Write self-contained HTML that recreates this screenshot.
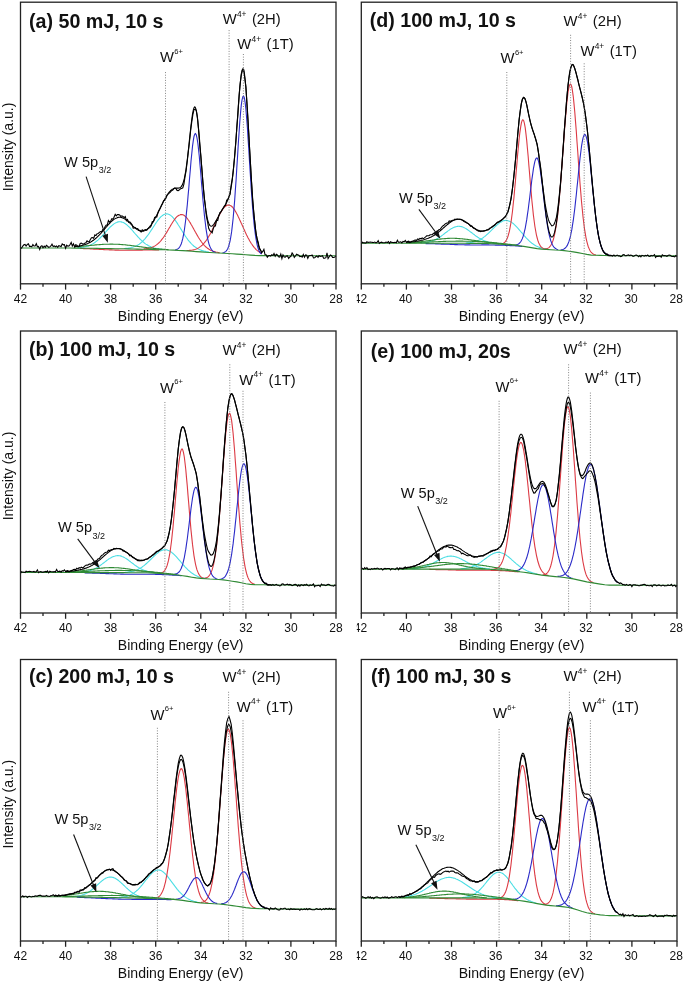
<!DOCTYPE html>
<html><head><meta charset="utf-8"><style>
html,body{margin:0;padding:0;background:#fff;}
svg{display:block;filter:blur(0.3px);}
text{font-family:"Liberation Sans", sans-serif;fill:#111;}
</style></head><body>
<svg width="685" height="982" viewBox="0 0 685 982">
<rect width="685" height="982" fill="#fff"/>
<path d="M77.6 247.8 78.3 247.7 79.1 247.7 79.8 247.6 80.6 247.5 81.3 247.4 82.1 247.3 82.8 247.2 83.6 247.1 84.4 246.9 85.1 246.8 85.9 246.6 86.6 246.4 87.4 246.2 88.1 245.9 88.9 245.7 89.6 245.4 90.4 245 91.1 244.7 91.9 244.3 92.6 243.9 93.4 243.4 94.1 243 94.9 242.5 95.6 241.9 96.4 241.3 97.1 240.7 97.9 240.1 98.6 239.4 99.4 238.7 100.1 238 100.9 237.2 101.6 236.5 102.4 235.7 103.1 234.8 103.9 234 104.6 233.2 105.4 232.3 106.1 231.5 106.9 230.7 107.6 229.8 108.4 229 109.1 228.2 109.9 227.4 110.6 226.7 111.4 226 112.1 225.3 112.9 224.7 113.6 224.1 114.4 223.6 115.2 223.1 115.9 222.7 116.7 222.4 117.4 222.1 118.2 221.9 118.9 221.8 119.7 221.8 120.4 221.8 121.2 221.9 121.9 222.1 122.7 222.3 123.4 222.6 124.2 223 124.9 223.4 125.7 224 126.4 224.5 127.2 225.1 127.9 225.8 128.7 226.5 129.4 227.3 130.2 228 130.9 228.9 131.7 229.7 132.4 230.5 133.2 231.4 133.9 232.3 134.7 233.1 135.4 234 136.2 234.9 136.9 235.7 137.7 236.6 138.4 237.4 139.2 238.2 139.9 239 140.7 239.7 141.4 240.4 142.2 241.1 142.9 241.8 143.7 242.4 144.4 243 145.2 243.6 145.9 244.1 146.7 244.6 147.5 245 148.2 245.5 149 245.9 149.7 246.3 150.5 246.6 151.2 246.9 152 247.2 152.7 247.5 153.5 247.7 154.2 248 155 248.2 155.7 248.3 156.5 248.5 157.2 248.7 158 248.8 158.7 248.9 159.5 249.1 160.2 249.2 161 249.3 161.7 249.3 162.5 249.4" stroke="#4adee4" stroke-width="1.1" fill="none"/>
<path d="M124.2 248.5 124.9 248.5 125.7 248.4 126.4 248.4 127.2 248.3 127.9 248.2 128.7 248.1 129.4 248 130.2 247.8 130.9 247.7 131.7 247.5 132.4 247.3 133.2 247.1 133.9 246.8 134.7 246.6 135.4 246.3 136.2 245.9 136.9 245.5 137.7 245.1 138.4 244.7 139.2 244.2 139.9 243.6 140.7 243 141.4 242.4 142.2 241.7 142.9 241 143.7 240.2 144.4 239.4 145.2 238.6 145.9 237.7 146.7 236.7 147.5 235.7 148.2 234.7 149 233.6 149.7 232.5 150.5 231.4 151.2 230.3 152 229.1 152.7 228 153.5 226.8 154.2 225.7 155 224.5 155.7 223.4 156.5 222.3 157.2 221.2 158 220.2 158.7 219.3 159.5 218.3 160.2 217.5 161 216.7 161.7 216.1 162.5 215.5 163.2 215 164 214.5 164.7 214.2 165.5 214 166.2 213.9 167 213.9 167.7 214 168.5 214.2 169.2 214.5 170 214.9 170.7 215.4 171.5 216.1 172.2 216.7 173 217.5 173.7 218.4 174.5 219.3 175.2 220.3 176 221.4 176.7 222.4 177.5 223.6 178.2 224.8 179 226 179.8 227.2 180.5 228.4 181.3 229.6 182 230.8 182.8 232.1 183.5 233.2 184.3 234.4 185 235.6 185.8 236.7 186.5 237.8 187.3 238.8 188 239.8 188.8 240.8 189.5 241.7 190.3 242.5 191 243.3 191.8 244.1 192.5 244.8 193.3 245.5 194 246.2 194.8 246.7 195.5 247.3 196.3 247.8 197 248.3 197.8 248.7 198.5 249.1 199.3 249.5 200 249.8 200.8 250.1 201.5 250.4 202.3 250.6 203 250.9 203.8 251.1 204.5 251.3 205.3 251.4 206 251.6 206.8 251.7 207.5 251.9 208.3 252 209 252.1" stroke="#4adee4" stroke-width="1.1" fill="none"/>
<path d="M143.7 248.9 144.4 248.8 145.2 248.8 145.9 248.7 146.7 248.6 147.5 248.5 148.2 248.4 149 248.2 149.7 248 150.5 247.8 151.2 247.6 152 247.3 152.7 247 153.5 246.7 154.2 246.3 155 245.9 155.7 245.4 156.5 244.9 157.2 244.3 158 243.7 158.7 243 159.5 242.3 160.2 241.5 161 240.6 161.7 239.7 162.5 238.7 163.2 237.7 164 236.6 164.7 235.5 165.5 234.3 166.2 233.1 167 231.9 167.7 230.6 168.5 229.3 169.2 228 170 226.7 170.7 225.4 171.5 224.2 172.2 223 173 221.8 173.7 220.7 174.5 219.6 175.2 218.6 176 217.7 176.7 216.9 177.5 216.2 178.2 215.7 179 215.2 179.8 214.9 180.5 214.6 181.3 214.6 182 214.6 182.8 214.8 183.5 215.1 184.3 215.5 185 216.1 185.8 216.8 186.5 217.6 187.3 218.5 188 219.5 188.8 220.5 189.5 221.7 190.3 222.9 191 224.2 191.8 225.5 192.5 226.8 193.3 228.2 194 229.5 194.8 230.9 195.5 232.3 196.3 233.6 197 234.9 197.8 236.2 198.5 237.5 199.3 238.7 200 239.8 200.8 240.9 201.5 242 202.3 243 203 243.9 203.8 244.8 204.5 245.6 205.3 246.3 206 247 206.8 247.7 207.5 248.3 208.3 248.8 209 249.3 209.8 249.7 210.6 250.2 211.3 250.5 212.1 250.8 212.8 251.1 213.6 251.4 214.3 251.6 215.1 251.8 215.8 252 216.6 252.2 217.3 252.3 218.1 252.5 218.8 252.6 219.6 252.7" stroke="#dc3a44" stroke-width="1.1" fill="none"/>
<path d="M186.5 250.5 187.3 250.5 188 250.5 188.8 250.5 189.5 250.4 190.3 250.4 191 250.3 191.8 250.2 192.5 250 193.3 249.9 194 249.7 194.8 249.5 195.5 249.3 196.3 249 197 248.7 197.8 248.3 198.5 247.9 199.3 247.4 200 246.9 200.8 246.4 201.5 245.7 202.3 245.1 203 244.3 203.8 243.5 204.5 242.6 205.3 241.7 206 240.7 206.8 239.6 207.5 238.4 208.3 237.2 209 235.9 209.8 234.6 210.6 233.2 211.3 231.7 212.1 230.2 212.8 228.7 213.6 227.1 214.3 225.6 215.1 223.9 215.8 222.3 216.6 220.7 217.3 219.2 218.1 217.6 218.8 216.1 219.6 214.6 220.3 213.2 221.1 211.9 221.8 210.7 222.6 209.5 223.3 208.5 224.1 207.6 224.8 206.8 225.6 206.2 226.3 205.7 227.1 205.3 227.8 205.1 228.6 205 229.3 205.1 230.1 205.4 230.8 205.8 231.6 206.3 232.3 207 233.1 207.9 233.8 208.8 234.6 209.9 235.3 211.1 236.1 212.4 236.8 213.8 237.6 215.2 238.3 216.8 239.1 218.4 239.8 220 240.6 221.7 241.3 223.3 242.1 225 242.9 226.7 243.6 228.4 244.4 230.1 245.1 231.7 245.9 233.4 246.6 234.9 247.4 236.4 248.1 237.9 248.9 239.3 249.6 240.7 250.4 242 251.1 243.2 251.9 244.3 252.6 245.4 253.4 246.4 254.1 247.3 254.9 248.2 255.6 249 256.4 249.8 257.1 250.4 257.9 251 258.6 251.6 259.4 252.1 260.1 252.5 260.9 252.9 261.6 253.2" stroke="#dc3a44" stroke-width="1.1" fill="none"/>
<path d="M175.2 249.9 176 249.7 176.7 249.5 177.5 249.1 178.2 248.6 179 247.8 179.8 246.8 180.5 245.5 181.3 243.7 182 241.4 182.8 238.4 183.5 234.8 184.3 230.5 185 225.3 185.8 219.3 186.5 212.4 187.3 204.8 188 196.6 188.8 187.9 189.5 178.9 190.3 170 191 161.3 191.8 153.4 192.5 146.4 193.3 140.7 194 136.5 194.8 134.1 195.5 133.5 196.3 134.9 197 138 197.8 142.8 198.5 149.1 199.3 156.5 200 164.9 200.8 173.7 201.5 182.8 202.3 191.9 203 200.5 203.8 208.7 204.5 216.2 205.3 222.8 206 228.7 206.8 233.7 207.5 237.8 208.3 241.3 209 244.1 209.8 246.3 210.6 248 211.3 249.3 212.1 250.3 212.8 251.1 213.6 251.6 214.3 252 215.1 252.3 215.8 252.5" stroke="#2a2ac8" stroke-width="1.1" fill="none"/>
<path d="M222.6 252.9 223.3 252.7 224.1 252.5 224.8 252.1 225.6 251.6 226.3 250.9 227.1 249.8 227.8 248.4 228.6 246.5 229.3 244 230.1 240.9 230.8 236.8 231.6 231.9 232.3 225.9 233.1 218.8 233.8 210.6 234.6 201.3 235.3 190.9 236.1 179.7 236.8 167.9 237.6 155.8 238.3 143.8 239.1 132.3 239.8 121.7 240.6 112.4 241.3 104.9 242.1 99.5 242.9 96.5 243.6 96 244.4 98 245.1 102.4 245.9 109.1 246.6 117.7 247.4 127.8 248.1 139.1 248.9 151.1 249.6 163.3 250.4 175.4 251.1 187 251.9 197.9 252.6 207.8 253.4 216.6 254.1 224.3 254.9 230.9 255.6 236.4 256.4 241 257.1 244.6 257.9 247.5 258.6 249.7 259.4 251.4 260.1 252.6 260.9 253.5 261.6 254.2" stroke="#2a2ac8" stroke-width="1.1" fill="none"/>
<path d="M74.6 246.9 75.3 246.8 76.1 246.8 76.8 246.7 77.6 246.6 78.3 246.6 79.1 246.5 79.8 246.4 80.6 246.4 81.3 246.3 82.1 246.2 82.8 246.2 83.6 246.1 84.4 246 85.1 246 85.9 245.9 86.6 245.8 87.4 245.7 88.1 245.7 88.9 245.6 89.6 245.5 90.4 245.4 91.1 245.4 91.9 245.3 92.6 245.2 93.4 245.2 94.1 245.1 94.9 245 95.6 244.9 96.4 244.9 97.1 244.8 97.9 244.8 98.6 244.7 99.4 244.6 100.1 244.6 100.9 244.5 101.6 244.5 102.4 244.4 103.1 244.4 103.9 244.3 104.6 244.3 105.4 244.3 106.1 244.2 106.9 244.2 107.6 244.2 108.4 244.2 109.1 244.2 109.9 244.1 110.6 244.1 111.4 244.1 112.1 244.1 112.9 244.1 113.6 244.2 114.4 244.2 115.2 244.2 115.9 244.2 116.7 244.3 117.4 244.3 118.2 244.3 118.9 244.4 119.7 244.4 120.4 244.5 121.2 244.5 121.9 244.6 122.7 244.6 123.4 244.7 124.2 244.8 124.9 244.8 125.7 244.9 126.4 245 127.2 245.1 127.9 245.2 128.7 245.3 129.4 245.3 130.2 245.4 130.9 245.5 131.7 245.6 132.4 245.7 133.2 245.8 133.9 245.9 134.7 246 135.4 246.1 136.2 246.2 136.9 246.3 137.7 246.4 138.4 246.5 139.2 246.6 139.9 246.7 140.7 246.8 141.4 246.9 142.2 247 142.9 247.1 143.7 247.2 144.4 247.3 145.2 247.4 145.9 247.5 146.7 247.6 147.5 247.7 148.2 247.8 149 247.9 149.7 248 150.5 248.1 151.2 248.1 152 248.2 152.7 248.3 153.5 248.4 154.2 248.5 155 248.5 155.7 248.6 156.5 248.7 157.2 248.8 158 248.8 158.7 248.9 159.5 249 160.2 249 161 249.1 161.7 249.1 162.5 249.2 163.2 249.3 164 249.3 164.7 249.4 165.5 249.4 166.2 249.5 167 249.5 167.7 249.6 168.5 249.6" stroke="#2f8a35" stroke-width="1.1" fill="none"/>
<path d="M80.2 248.4 81.3 248.5 82.5 248.5 83.6 248.6 84.7 248.6 85.9 248.7 87 248.7 88.1 248.8 89.2 248.8 90.4 248.9 91.5 248.9 92.6 249 93.7 249.1 94.9 249.1 96 249.2 97.1 249.2 98.2 249.3 99.4 249.4 100.5 249.4 101.6 249.5 102.8 249.5 103.9 249.6 105 249.7 106.1 249.7 107.3 249.8 108.4 249.8 109.5 249.9 110.6 249.9 111.8 249.9 112.9 250 114 250 115.2 250.1 116.3 250.1 117.4 250.1 118.5 250.1 119.7 250.2 120.8 250.2 121.9 250.2 123 250.2 124.2 250.2 125.3 250.2 126.4 250.2 127.5 250.2 128.7 250.2 129.8 250.2 130.9 250.2 132.1 250.2 133.2 250.2 134.3 250.2 135.4 250.2 136.6 250.1 137.7 250.1 138.8 250.1 139.9 250.1 141.1 250.1 142.2 250.1 143.3 250 144.4 250 145.6 250 146.7 250 147.8 250 149 250 150.1 250 151.2 250 152.3 249.9 153.5 249.9 154.6 249.9 155.7 249.9 156.8 249.9 158 249.9 159.1 250" stroke="#dc3a44" stroke-width="1.1" fill="none"/>
<path d="M20.5 248 25 248 29.5 248 34 248 38.5 248 43 248 47.5 248 52 248 56.6 248 61.1 248 65.6 248 70.1 248 74.6 248.1 79.1 248.1 83.6 248.2 88.1 248.2 92.6 248.3 97.1 248.4 101.6 248.5 106.1 248.5 110.6 248.6 115.2 248.7 119.7 248.8 124.2 248.8 128.7 248.9 133.2 249 137.7 249.1 142.2 249.2 146.7 249.3 151.2 249.4 155.7 249.6 160.2 249.7 164.7 249.8 169.2 250 173.7 250.1 178.2 250.4 182.8 250.6 187.3 250.9 191.8 251.3 196.3 251.6 200.8 251.9 205.3 252.2 209.8 252.5 214.3 252.8 218.8 253 223.3 253.2 227.8 253.5 232.3 253.8 236.8 254.1 241.3 254.4 245.9 254.7 250.4 255.1 254.9 255.4 259.4 255.6 263.9 255.6 268.4 255.6 272.9 255.6 277.4 255.6 281.9 255.7 286.4 255.7 290.9 255.7 295.4 255.7 299.9 255.7 304.5 255.7 309 255.7 313.5 255.7 318 255.7 322.5 255.7 327 255.7 331.5 255.7 336 255.7" stroke="#2f8a35" stroke-width="1.1" fill="none"/>
<path d="M74.6 246.7 75.3 246.6 76.1 246.5 76.8 246.4 77.6 246.3 78.3 246.2 79.1 246 79.8 245.9 80.6 245.7 81.3 245.6 82.1 245.4 82.8 245.2 83.6 245 84.4 244.8 85.1 244.5 85.9 244.3 86.6 244 87.4 243.7 88.1 243.3 88.9 243 89.6 242.6 90.4 242.2 91.1 241.8 91.9 241.3 92.6 240.8 93.4 240.3 94.1 239.7 94.9 239.1 95.6 238.5 96.4 237.8 97.1 237.2 97.9 236.4 98.6 235.7 99.4 234.9 100.1 234.1 100.9 233.3 101.6 232.5 102.4 231.6 103.1 230.7 103.9 229.9 104.6 229 105.4 228.1 106.1 227.2 106.9 226.3 107.6 225.4 108.4 224.6 109.1 223.8 109.9 223 110.6 222.2 111.4 221.5 112.1 220.8 112.9 220.2 113.6 219.6 114.4 219.1 115.2 218.6 115.9 218.2 116.7 217.9 117.4 217.6 118.2 217.4 118.9 217.3 119.7 217.3 120.4 217.3 121.2 217.5 121.9 217.6 122.7 217.9 123.4 218.2 124.2 218.6 124.9 219.1 125.7 219.6 126.4 220.1 127.2 220.7 127.9 221.4 128.7 222 129.4 222.7 130.2 223.4 130.9 224.1 131.7 224.9 132.4 225.6 133.2 226.3 133.9 227 134.7 227.6 135.4 228.2 136.2 228.8 136.9 229.4 137.7 229.8 138.4 230.2 139.2 230.6 139.9 230.9 140.7 231.1 141.4 231.2 142.2 231.2 142.9 231.2 143.7 231 144.4 230.8 145.2 230.5 145.9 230.1 146.7 229.6 147.5 229 148.2 228.3 149 227.5 149.7 226.6 150.5 225.7 151.2 224.7 152 223.6 152.7 222.4 153.5 221.2 154.2 219.9 155 218.5 155.7 217.1 156.5 215.7 157.2 214.2 158 212.7 158.7 211.2 159.5 209.7 160.2 208.1 161 206.6 161.7 205.1 162.5 203.5 163.2 202.1 164 200.6 164.7 199.2 165.5 197.9 166.2 196.6 167 195.4 167.7 194.2 168.5 193.2 169.2 192.2 170 191.3 170.7 190.5 171.5 189.9 172.2 189.3 173 188.9 173.7 188.5 174.5 188.3 175.2 188.2 176 188.1 176.7 188.1 177.5 188.1 178.2 188.1 179 188 179.8 187.8 180.5 187.3 181.3 186.6 182 185.4 182.8 183.8 183.5 181.6 184.3 178.7 185 175.1 185.8 170.8 186.5 165.6 187.3 159.8 188 153.4 188.8 146.5 189.5 139.4 190.3 132.3 191 125.5 191.8 119.3 192.5 114.1 193.3 110.2 194 107.7 194.8 106.9 195.5 107.8 196.3 110.5 197 115 197.8 121 198.5 128.3 199.3 136.7 200 145.9 200.8 155.4 201.5 165.1 202.3 174.5 203 183.4 203.8 191.7 204.5 199.1 205.3 205.6 206 211.2 206.8 215.7 207.5 219.3 208.3 222.1 209 224 209.8 225.3 210.6 226 211.3 226.2 212.1 226 212.8 225.4 213.6 224.6 214.3 223.6 215.1 222.4 215.8 221.1 216.6 219.8 217.3 218.4 218.1 217 218.8 215.6 219.6 214.2 220.3 212.8 221.1 211.5 221.8 210.2 222.6 209 223.3 207.8 224.1 206.7 224.8 205.5 225.6 204.4 226.3 203.1 227.1 201.6 227.8 200 228.6 198 229.3 195.6 230.1 192.6 230.8 188.9 231.6 184.5 232.3 179.1 233.1 172.8 233.8 165.5 234.6 157.2 235.3 148 236.1 138.1 236.8 127.6 237.6 116.9 238.3 106.4 239.1 96.4 239.8 87.3 240.6 79.7 241.3 73.8 242.1 70.1 242.9 68.7 243.6 69.8 244.4 73.4 245.1 79.5 245.9 87.7 246.6 97.8 247.4 109.4 248.1 122.1 248.9 135.4 249.6 148.9 250.4 162.3 251.1 175 251.9 187 252.6 197.9 253.4 207.7 254.1 216.3 254.9 223.7 255.6 230 256.4 235.2 257.1 239.5 257.9 242.9 258.6 245.7 259.4 247.8 260.1 249.5 260.9 250.8 261.6 251.8" stroke="#000" stroke-width="1.1" fill="none"/>
<path d="M20.5 247.9 21.6 248.2 22.8 246.1 23.9 244.8 25 244.4 26.1 246 27.3 244.5 28.4 243.8 29.5 246.3 30.6 246.2 31.8 246.8 32.9 244.6 34 246 35.1 245.9 36.3 243.7 37.4 246.8 38.5 246.4 39.7 249.5 40.8 246.3 41.9 245.7 43 247.8 44.2 246.2 45.3 247.3 46.4 245.4 47.5 246.2 48.7 247.4 49.8 246.9 50.9 246 52 244.2 53.2 246.5 54.3 245.9 55.4 246.8 56.6 246 57.7 247.3 58.8 245.6 59.9 245.9 61.1 246.6 62.2 243.9 63.3 244.8 64.4 244.6 65.6 248.3 66.7 245.1 67.8 246.1 69 245.9 70.1 244.5 71.2 242.4 72.3 246 73.5 243.8 74.6 246.9 75.7 244.7 76.8 245.3 78 246.7 79.1 246.5 80.2 243.4 81.3 243 82.5 243.9 83.6 244.2 84.7 243.2 85.9 242.8 87 240.9 88.1 241.8 89.2 241.7 90.4 239.5 91.5 237.7 92.6 237.6 93.7 238.3 94.9 234.9 96 235.6 97.1 233.7 98.2 233.5 99.4 232.4 100.5 231.5 101.6 231.9 102.8 229.6 103.9 229.4 105 226.7 106.1 225.2 107.3 224.8 108.4 220.5 109.5 222.1 110.6 221.2 111.8 218.7 112.9 219.3 114 217.2 115.2 214.4 116.3 215.9 117.4 214.5 118.5 214.6 119.7 214.9 120.8 216.5 121.9 215.8 123 216.4 124.2 217.7 125.3 216.5 126.4 220.7 127.5 219.5 128.7 222.2 129.8 221.8 130.9 223.1 132.1 224.8 133.2 228.1 134.3 228 135.4 227.6 136.6 228.8 137.7 228.7 138.8 230.4 139.9 230.3 141.1 231.9 142.2 229.9 143.3 230.8 144.4 230 145.6 229.6 146.7 230.3 147.8 228.8 149 228.1 150.1 227.4 151.2 225.8 152.3 221.6 153.5 221.7 154.6 217.4 155.7 217.1 156.8 216.9 158 212.5 159.1 210.1 160.2 208.3 161.3 205.8 162.5 203.6 163.6 200.6 164.7 200.3 165.9 198.2 167 195.2 168.1 194.1 169.2 193 170.4 192.2 171.5 190.6 172.6 190.2 173.7 188.9 174.9 188 176 188.6 177.1 190.4 178.2 190.6 179.4 189.8 180.5 188.8 181.6 188.6 182.8 187.8 183.9 184.1 185 176.9 186.1 170.7 187.3 160.7 188.4 151 189.5 141.5 190.6 130.6 191.8 121.8 192.9 114.5 194 109.6 195.2 109.2 196.3 110.6 197.4 117.1 198.5 129.2 199.7 144.2 200.8 156 201.9 168.9 203 184 204.2 197.6 205.3 205.7 206.4 216.3 207.5 221.6 208.7 228.3 209.8 230.7 210.9 231.5 212.1 232.8 213.2 228.8 214.3 226.1 215.4 225.9 216.6 220.3 217.7 220.6 218.8 215.9 219.9 212.6 221.1 211.6 222.2 209.8 223.3 208.1 224.4 205.9 225.6 205.4 226.7 200.1 227.8 199.4 229 196.6 230.1 194.4 231.2 184.8 232.3 178.8 233.5 168.1 234.6 156.5 235.7 143.8 236.8 128 238 113 239.1 95.8 240.2 83.6 241.3 75 242.5 70 243.6 69.5 244.7 77.3 245.9 86.8 247 105.2 248.1 122.3 249.2 142.1 250.4 162.5 251.5 182 252.6 199.7 253.7 212 254.9 223.4 256 233.3 257.1 238.6 258.3 242.7 259.4 248.7 260.5 249.8 261.6 252.9 262.8 251.4 263.9 249.3 265 254.6 266.1 254.8 267.3 257.2 268.4 255.8 269.5 255.6 270.6 256.1 271.8 254.8 272.9 255.5 274 253.5 275.2 256.3 276.3 254.3 277.4 254.9 278.5 256.7 279.7 257 280.8 254.1 281.9 258.6 283 254.8 284.2 256.9 285.3 257.1 286.4 256 287.5 255.9 288.7 258.4 289.8 257 290.9 256.3 292.1 252.9 293.2 254.6 294.3 257.4 295.4 256 296.6 254.2 297.7 254.7 298.8 255.2 299.9 256.7 301.1 256.3 302.2 257.2 303.3 254.5 304.5 257.2 305.6 254.9 306.7 255.2 307.8 258.3 309 255.8 310.1 255.5 311.2 255.4 312.3 255.1 313.5 258 314.6 257.8 315.7 256.8 316.8 256 318 257.3 319.1 255.6 320.2 256.4 321.4 256.3 322.5 255.8 323.6 258.2 324.7 258.3 325.9 257.7 327 252.8 328.1 258.5 329.2 256.8 330.4 255 331.5 255.7 332.6 257.4 333.7 257.5 334.9 257 336 255.9" stroke="#000" stroke-width="1.1" fill="none"/>
<rect x="20.5" y="2.2" width="315.5" height="281.6" fill="none" stroke="#222" stroke-width="1.3"/>
<path d="M20.5 283.8v5.8" stroke="#222" stroke-width="1.3"/>
<path d="M43 283.8v3" stroke="#222" stroke-width="1.3"/>
<path d="M65.6 283.8v5.8" stroke="#222" stroke-width="1.3"/>
<path d="M88.1 283.8v3" stroke="#222" stroke-width="1.3"/>
<path d="M110.6 283.8v5.8" stroke="#222" stroke-width="1.3"/>
<path d="M133.2 283.8v3" stroke="#222" stroke-width="1.3"/>
<path d="M155.7 283.8v5.8" stroke="#222" stroke-width="1.3"/>
<path d="M178.2 283.8v3" stroke="#222" stroke-width="1.3"/>
<path d="M200.8 283.8v5.8" stroke="#222" stroke-width="1.3"/>
<path d="M223.3 283.8v3" stroke="#222" stroke-width="1.3"/>
<path d="M245.9 283.8v5.8" stroke="#222" stroke-width="1.3"/>
<path d="M268.4 283.8v3" stroke="#222" stroke-width="1.3"/>
<path d="M290.9 283.8v5.8" stroke="#222" stroke-width="1.3"/>
<path d="M313.5 283.8v3" stroke="#222" stroke-width="1.3"/>
<path d="M336 283.8v5.8" stroke="#222" stroke-width="1.3"/>
<text x="20.5" y="303" font-size="12" text-anchor="middle">42</text>
<text x="65.6" y="303" font-size="12" text-anchor="middle">40</text>
<text x="110.6" y="303" font-size="12" text-anchor="middle">38</text>
<text x="155.7" y="303" font-size="12" text-anchor="middle">36</text>
<text x="200.8" y="303" font-size="12" text-anchor="middle">34</text>
<text x="245.9" y="303" font-size="12" text-anchor="middle">32</text>
<text x="290.9" y="303" font-size="12" text-anchor="middle">30</text>
<text x="336" y="303" font-size="12" text-anchor="middle">28</text>
<text x="180.7" y="321.2" font-size="14.05" text-anchor="middle">Binding Energy (eV)</text>
<text transform="translate(13.2 147) rotate(-90)" font-size="14" text-anchor="middle">Intensity (a.u.)</text>
<text x="29" y="27.6" font-size="19.5" font-weight="bold" textLength="134.5" lengthAdjust="spacingAndGlyphs">(a) 50 mJ, 10 s</text>
<path d="M165.5 72.1V283.8" stroke="#777" stroke-width="0.9" stroke-dasharray="1 1.6"/>
<path d="M229.1 30.1V283.8" stroke="#777" stroke-width="0.9" stroke-dasharray="1 1.6"/>
<path d="M243.4 54V283.8" stroke="#777" stroke-width="0.9" stroke-dasharray="1 1.6"/>
<text x="222.7" y="23.9" font-size="14.8">W</text><text x="236.9" y="16.7" font-size="8.4">4+</text><text x="251.9" y="23.9" font-size="14.8">(2H)</text>
<text x="237.3" y="49.2" font-size="14.8">W</text><text x="251.5" y="42" font-size="8.4">4+</text><text x="266.5" y="49.2" font-size="14.8">(1T)</text>
<text x="159.9" y="62.3" font-size="14.8">W</text><text x="174.2" y="54" font-size="7.6">6+</text>
<text x="64.1" y="166.5" font-size="14.6">W 5p</text>
<text x="98.7" y="172.8" font-size="9">3/2</text>
<path d="M86.1 176.6L105.8 236.6" stroke="#111" stroke-width="1.1"/>
<path d="M107.8 242.8L102.3 235.7L108 233.8Z" fill="#111"/>
<path d="M79.8 572.2 80.6 572.2 81.3 572.1 82.1 572.1 82.8 572 83.6 571.9 84.4 571.8 85.1 571.7 85.9 571.6 86.6 571.4 87.4 571.3 88.1 571.1 88.9 570.9 89.6 570.7 90.4 570.5 91.1 570.2 91.9 570 92.6 569.7 93.4 569.4 94.1 569 94.9 568.7 95.6 568.3 96.4 567.9 97.1 567.4 97.9 567 98.6 566.5 99.4 566 100.1 565.5 100.9 565 101.6 564.4 102.4 563.9 103.1 563.3 103.9 562.7 104.6 562.1 105.4 561.6 106.1 561 106.9 560.4 107.6 559.9 108.4 559.4 109.1 558.8 109.9 558.4 110.6 557.9 111.4 557.5 112.1 557.1 112.9 556.7 113.6 556.4 114.4 556.2 115.2 556 115.9 555.8 116.7 555.7 117.4 555.6 118.2 555.6 118.9 555.7 119.7 555.8 120.4 555.9 121.2 556.1 121.9 556.4 122.7 556.7 123.4 557 124.2 557.4 124.9 557.9 125.7 558.3 126.4 558.8 127.2 559.3 127.9 559.8 128.7 560.4 129.4 561 130.2 561.5 130.9 562.1 131.7 562.7 132.4 563.3 133.2 563.8 133.9 564.4 134.7 565 135.4 565.5 136.2 566 136.9 566.5 137.7 567 138.4 567.5 139.2 567.9 139.9 568.3 140.7 568.7 141.4 569.1 142.2 569.5 142.9 569.8 143.7 570.1 144.4 570.4 145.2 570.7 145.9 570.9 146.7 571.1 147.5 571.4 148.2 571.6 149 571.8 149.7 571.9 150.5 572.1 151.2 572.2 152 572.4 152.7 572.5 153.5 572.6 154.2 572.7 155 572.8 155.7 572.9" stroke="#4adee4" stroke-width="1.1" fill="none"/>
<path d="M124.9 572.3 125.7 572.3 126.4 572.2 127.2 572.1 127.9 572.1 128.7 572 129.4 571.9 130.2 571.8 130.9 571.6 131.7 571.5 132.4 571.3 133.2 571.1 133.9 570.9 134.7 570.7 135.4 570.4 136.2 570.2 136.9 569.9 137.7 569.5 138.4 569.2 139.2 568.8 139.9 568.4 140.7 567.9 141.4 567.5 142.2 567 142.9 566.4 143.7 565.9 144.4 565.3 145.2 564.7 145.9 564 146.7 563.3 147.5 562.7 148.2 561.9 149 561.2 149.7 560.5 150.5 559.7 151.2 559 152 558.2 152.7 557.5 153.5 556.7 154.2 556 155 555.3 155.7 554.6 156.5 553.9 157.2 553.3 158 552.7 158.7 552.1 159.5 551.6 160.2 551.1 161 550.8 161.7 550.4 162.5 550.1 163.2 549.9 164 549.8 164.7 549.7 165.5 549.7 166.2 549.8 167 549.9 167.7 550.2 168.5 550.4 169.2 550.8 170 551.2 170.7 551.7 171.5 552.2 172.2 552.8 173 553.5 173.7 554.1 174.5 554.9 175.2 555.6 176 556.4 176.7 557.2 177.5 558.1 178.2 559 179 559.8 179.8 560.7 180.5 561.6 181.3 562.5 182 563.4 182.8 564.3 183.5 565.2 184.3 566 185 566.8 185.8 567.6 186.5 568.4 187.3 569.2 188 569.9 188.8 570.6 189.5 571.2 190.3 571.9 191 572.5 191.8 573 192.5 573.6 193.3 574 194 574.5 194.8 574.9 195.5 575.3 196.3 575.7 197 576.1 197.8 576.4 198.5 576.7 199.3 576.9 200 577.2 200.8 577.4 201.5 577.6 202.3 577.8 203 577.9 203.8 578.1 204.5 578.2 205.3 578.3 206 578.4 206.8 578.5" stroke="#4adee4" stroke-width="1.1" fill="none"/>
<path d="M160.2 573.1 161 573 161.7 572.8 162.5 572.5 163.2 572 164 571.4 164.7 570.5 165.5 569.3 166.2 567.8 167 565.9 167.7 563.4 168.5 560.4 169.2 556.7 170 552.3 170.7 547.2 171.5 541.3 172.2 534.6 173 527.3 173.7 519.2 174.5 510.7 175.2 501.9 176 493 176.7 484.2 177.5 475.9 178.2 468.2 179 461.6 179.8 456.1 180.5 452.1 181.3 449.7 182 448.9 182.8 450 183.5 452.7 184.3 457 185 462.7 185.8 469.7 186.5 477.6 187.3 486.1 188 495.1 188.8 504.2 189.5 513.2 190.3 521.9 191 530.1 191.8 537.6 192.5 544.4 193.3 550.5 194 555.8 194.8 560.3 195.5 564.1 196.3 567.3 197 569.9 197.8 571.9 198.5 573.6 199.3 574.9 200 575.9 200.8 576.7 201.5 577.2 202.3 577.7 203 578 203.8 578.2" stroke="#dc3a44" stroke-width="1.1" fill="none"/>
<path d="M203.8 578.3 204.5 578.2 205.3 578.1 206 577.9 206.8 577.6 207.5 577.2 208.3 576.6 209 575.8 209.8 574.8 210.6 573.6 211.3 571.9 212.1 569.9 212.8 567.4 213.6 564.3 214.3 560.6 215.1 556.3 215.8 551.2 216.6 545.4 217.3 538.7 218.1 531.3 218.8 523.1 219.6 514.1 220.3 504.6 221.1 494.6 221.8 484.2 222.6 473.8 223.3 463.4 224.1 453.5 224.8 444.1 225.6 435.5 226.3 428.1 227.1 422 227.8 417.4 228.6 414.4 229.3 413.3 230.1 413.9 230.8 416.3 231.6 420.4 232.3 426.1 233.1 433.2 233.8 441.5 234.6 450.7 235.3 460.7 236.1 471.1 236.8 481.8 237.6 492.4 238.3 502.7 239.1 512.7 239.8 522.1 240.6 530.8 241.3 538.8 242.1 546 242.9 552.4 243.6 558.1 244.4 562.9 245.1 567.1 245.9 570.6 246.6 573.5 247.4 576 248.1 577.9 248.9 579.5 249.6 580.8 250.4 581.7 251.1 582.5 251.9 583.1 252.6 583.5 253.4 583.8 254.1 584.1 254.9 584.2" stroke="#dc3a44" stroke-width="1.1" fill="none"/>
<path d="M174.5 574.3 175.2 574.1 176 573.9 176.7 573.7 177.5 573.3 178.2 572.7 179 572 179.8 571 180.5 569.8 181.3 568.2 182 566.3 182.8 563.9 183.5 561 184.3 557.6 185 553.7 185.8 549.2 186.5 544.2 187.3 538.8 188 533 188.8 526.9 189.5 520.7 190.3 514.6 191 508.6 191.8 503 192.5 498.1 193.3 493.9 194 490.6 194.8 488.4 195.5 487.3 196.3 487.4 197 488.7 197.8 491.2 198.5 494.7 199.3 499.1 200 504.3 200.8 510.1 201.5 516.2 202.3 522.6 203 529 203.8 535.2 204.5 541.2 205.3 546.8 206 551.9 206.8 556.5 207.5 560.6 208.3 564.2 209 567.2 209.8 569.8 210.6 571.9 211.3 573.6 212.1 575 212.8 576.1 213.6 576.9 214.3 577.6 215.1 578.1 215.8 578.5 216.6 578.8 217.3 579" stroke="#2a2ac8" stroke-width="1.1" fill="none"/>
<path d="M219.6 579.2 220.3 579.2 221.1 579 221.8 578.8 222.6 578.5 223.3 578.1 224.1 577.5 224.8 576.8 225.6 575.9 226.3 574.6 227.1 573.1 227.8 571.2 228.6 568.9 229.3 566.1 230.1 562.8 230.8 558.9 231.6 554.5 232.3 549.5 233.1 543.9 233.8 537.8 234.6 531.1 235.3 524.1 236.1 516.8 236.8 509.3 237.6 501.9 238.3 494.6 239.1 487.6 239.8 481.3 240.6 475.7 241.3 471 242.1 467.4 242.9 464.9 243.6 463.8 244.4 463.9 245.1 465.4 245.9 468.1 246.6 472 247.4 477 248.1 482.8 248.9 489.4 249.6 496.6 250.4 504.1 251.1 511.7 251.9 519.3 252.6 526.8 253.4 534 254.1 540.8 254.9 547.1 255.6 552.8 256.4 558 257.1 562.6 257.9 566.6 258.6 570 259.4 572.9 260.1 575.4 260.9 577.4 261.6 579.1 262.4 580.4 263.1 581.5 263.9 582.3 264.6 583 265.4 583.5 266.1 583.9 266.9 584.2 267.6 584.4 268.4 584.5" stroke="#2a2ac8" stroke-width="1.1" fill="none"/>
<path d="M65.6 572.1 66.3 572 67.1 572 67.8 572 68.6 571.9 69.3 571.9 70.1 571.8 70.8 571.8 71.6 571.7 72.3 571.7 73.1 571.6 73.8 571.5 74.6 571.5 75.3 571.4 76.1 571.3 76.8 571.3 77.6 571.2 78.3 571.1 79.1 571 79.8 571 80.6 570.9 81.3 570.8 82.1 570.7 82.8 570.6 83.6 570.5 84.4 570.4 85.1 570.3 85.9 570.2 86.6 570.1 87.4 570 88.1 569.9 88.9 569.8 89.6 569.7 90.4 569.6 91.1 569.5 91.9 569.4 92.6 569.3 93.4 569.2 94.1 569 94.9 568.9 95.6 568.8 96.4 568.7 97.1 568.6 97.9 568.6 98.6 568.5 99.4 568.4 100.1 568.3 100.9 568.2 101.6 568.1 102.4 568.1 103.1 568 103.9 567.9 104.6 567.9 105.4 567.8 106.1 567.8 106.9 567.7 107.6 567.7 108.4 567.7 109.1 567.6 109.9 567.6 110.6 567.6 111.4 567.6 112.1 567.6 112.9 567.6 113.6 567.6 114.4 567.7 115.2 567.7 115.9 567.7 116.7 567.8 117.4 567.8 118.2 567.8 118.9 567.9 119.7 568 120.4 568 121.2 568.1 121.9 568.2 122.7 568.3 123.4 568.4 124.2 568.4 124.9 568.5 125.7 568.6 126.4 568.7 127.2 568.8 127.9 568.9 128.7 569 129.4 569.1 130.2 569.3 130.9 569.4 131.7 569.5 132.4 569.6 133.2 569.7 133.9 569.8 134.7 569.9 135.4 570 136.2 570.1 136.9 570.2 137.7 570.3 138.4 570.5 139.2 570.6 139.9 570.7 140.7 570.8 141.4 570.9 142.2 571 142.9 571.1 143.7 571.2 144.4 571.3 145.2 571.4 145.9 571.5 146.7 571.6 147.5 571.7 148.2 571.8 149 571.9 149.7 571.9 150.5 572 151.2 572.1 152 572.2 152.7 572.3 153.5 572.4 154.2 572.5 155 572.6 155.7 572.7 156.5 572.8 157.2 572.8 158 572.9 158.7 573 159.5 573.1 160.2 573.2 161 573.3" stroke="#2f8a35" stroke-width="1.1" fill="none"/>
<path d="M65.6 572.1 66.3 572.1 67.1 572.1 67.8 572.1 68.6 572.1 69.3 572.1 70.1 572 70.8 572 71.6 572 72.3 572 73.1 571.9 73.8 571.9 74.6 571.9 75.3 571.9 76.1 571.8 76.8 571.8 77.6 571.8 78.3 571.8 79.1 571.7 79.8 571.7 80.6 571.7 81.3 571.6 82.1 571.6 82.8 571.6 83.6 571.5 84.4 571.5 85.1 571.5 85.9 571.5 86.6 571.4 87.4 571.4 88.1 571.4 88.9 571.3 89.6 571.3 90.4 571.3 91.1 571.2 91.9 571.2 92.6 571.2 93.4 571.1 94.1 571.1 94.9 571.1 95.6 571 96.4 571 97.1 571 97.9 570.9 98.6 570.9 99.4 570.9 100.1 570.8 100.9 570.8 101.6 570.8 102.4 570.7 103.1 570.7 103.9 570.7 104.6 570.7 105.4 570.6 106.1 570.6 106.9 570.6 107.6 570.6 108.4 570.6 109.1 570.5 109.9 570.5 110.6 570.5 111.4 570.5 112.1 570.5 112.9 570.5 113.6 570.5 114.4 570.5 115.2 570.4 115.9 570.4 116.7 570.4 117.4 570.4 118.2 570.4 118.9 570.4 119.7 570.4 120.4 570.4 121.2 570.4 121.9 570.4 122.7 570.5 123.4 570.5 124.2 570.5 124.9 570.5 125.7 570.5 126.4 570.5 127.2 570.5 127.9 570.5 128.7 570.6 129.4 570.6 130.2 570.6 130.9 570.6 131.7 570.7 132.4 570.7 133.2 570.7 133.9 570.7 134.7 570.8 135.4 570.8 136.2 570.8 136.9 570.9 137.7 570.9 138.4 570.9 139.2 571 139.9 571 140.7 571 141.4 571.1 142.2 571.1 142.9 571.1 143.7 571.2 144.4 571.2 145.2 571.3 145.9 571.4 146.7 571.4 147.5 571.5 148.2 571.5 149 571.6 149.7 571.7 150.5 571.7 151.2 571.8 152 571.9 152.7 571.9 153.5 572 154.2 572.1 155 572.2 155.7 572.2 156.5 572.3 157.2 572.4 158 572.5 158.7 572.6 159.5 572.6 160.2 572.7 161 572.8 161.7 572.9 162.5 573 163.2 573.1 164 573.1 164.7 573.2 165.5 573.3 166.2 573.4 167 573.5 167.7 573.6 168.5 573.6 169.2 573.7 170 573.8 170.7 573.9 171.5 574 172.2 574.1 173 574.1 173.7 574.2 174.5 574.3 175.2 574.4 176 574.5 176.7 574.6" stroke="#2f8a35" stroke-width="1.1" fill="none"/>
<path d="M84.7 572.9 85.9 572.9 87 572.9 88.1 573 89.2 573 90.4 573 91.5 573 92.6 573.1 93.7 573.1 94.9 573.2 96 573.2 97.1 573.2 98.2 573.3 99.4 573.3 100.5 573.4 101.6 573.4 102.8 573.4 103.9 573.5 105 573.5 106.1 573.6 107.3 573.6 108.4 573.6 109.5 573.7 110.6 573.7 111.8 573.8 112.9 573.8 114 573.9 115.2 573.9 116.3 573.9 117.4 574 118.5 574 119.7 574 120.8 574.1 121.9 574.1 123 574.1 124.2 574.2 125.3 574.2 126.4 574.2 127.5 574.2 128.7 574.2 129.8 574.2 130.9 574.3 132.1 574.3 133.2 574.3 134.3 574.3 135.4 574.3 136.6 574.3 137.7 574.3 138.8 574.3 139.9 574.3 141.1 574.2 142.2 574.2 143.3 574.2 144.4 574.2 145.6 574.2 146.7 574.2 147.8 574.2 149 574.3 150.1 574.3 151.2 574.3 152.3 574.3 153.5 574.3 154.6 574.3 155.7 574.4 156.8 574.4 158 574.4 159.1 574.5 160.2 574.5 161.3 574.5 162.5 574.6 163.6 574.6 164.7 574.7 165.9 574.7 167 574.8 168.1 574.8 169.2 574.9 170.4 574.9 171.5 575 172.6 575.1 173.7 575.1 174.9 575.2 176 575.2 177.1 575.3 178.2 575.4 179.4 575.5 180.5 575.7 181.6 575.8" stroke="#2a2ac8" stroke-width="1.1" fill="none"/>
<path d="M20.5 572.5 25 572.5 29.5 572.5 34 572.5 38.5 572.5 43 572.5 47.5 572.5 52 572.5 56.6 572.5 61.1 572.5 65.6 572.5 70.1 572.5 74.6 572.5 79.1 572.5 83.6 572.5 88.1 572.6 92.6 572.6 97.1 572.6 101.6 572.6 106.1 572.6 110.6 572.6 115.2 572.6 119.7 572.6 124.2 572.6 128.7 572.7 133.2 572.7 137.7 572.7 142.2 572.7 146.7 572.8 151.2 573 155.7 573.2 160.2 573.5 164.7 573.9 169.2 574.2 173.7 574.6 178.2 575 182.8 575.7 187.3 576.4 191.8 577.2 196.3 577.9 200.8 578.4 205.3 578.7 209.8 579 214.3 579.2 218.8 579.5 223.3 579.9 227.8 580.5 232.3 581.2 236.8 581.9 241.3 582.7 245.9 583.7 250.4 584.4 254.9 584.6 259.4 584.7 263.9 584.8 268.4 584.9 272.9 584.9 277.4 585 281.9 585 286.4 585 290.9 585.1 295.4 585.1 299.9 585.1 304.5 585.1 309 585.1 313.5 585.2 318 585.2 322.5 585.2 327 585.2 331.5 585.2 336 585.2" stroke="#2f8a35" stroke-width="1.1" fill="none"/>
<path d="M65.6 571.7 66.3 571.6 67.1 571.6 67.8 571.5 68.6 571.4 69.3 571.4 70.1 571.3 70.8 571.2 71.6 571.1 72.3 571 73.1 571 73.8 570.9 74.6 570.7 75.3 570.6 76.1 570.5 76.8 570.4 77.6 570.3 78.3 570.1 79.1 570 79.8 569.8 80.6 569.6 81.3 569.5 82.1 569.3 82.8 569.1 83.6 568.9 84.4 568.6 85.1 568.4 85.9 568.1 86.6 567.9 87.4 567.6 88.1 567.2 88.9 566.9 89.6 566.6 90.4 566.2 91.1 565.8 91.9 565.4 92.6 565 93.4 564.5 94.1 564 94.9 563.5 95.6 563 96.4 562.5 97.1 561.9 97.9 561.3 98.6 560.7 99.4 560.1 100.1 559.5 100.9 558.8 101.6 558.2 102.4 557.5 103.1 556.8 103.9 556.2 104.6 555.5 105.4 554.8 106.1 554.2 106.9 553.6 107.6 553 108.4 552.4 109.1 551.8 109.9 551.3 110.6 550.8 111.4 550.4 112.1 549.9 112.9 549.6 113.6 549.3 114.4 549 115.2 548.8 115.9 548.7 116.7 548.6 117.4 548.6 118.2 548.6 118.9 548.7 119.7 548.8 120.4 549 121.2 549.3 121.9 549.6 122.7 549.9 123.4 550.3 124.2 550.8 124.9 551.3 125.7 551.8 126.4 552.3 127.2 552.8 127.9 553.4 128.7 554 129.4 554.6 130.2 555.1 130.9 555.7 131.7 556.3 132.4 556.8 133.2 557.3 133.9 557.8 134.7 558.3 135.4 558.7 136.2 559.1 136.9 559.4 137.7 559.7 138.4 559.9 139.2 560.1 139.9 560.3 140.7 560.3 141.4 560.3 142.2 560.3 142.9 560.2 143.7 560.1 144.4 559.9 145.2 559.6 145.9 559.3 146.7 559 147.5 558.6 148.2 558.2 149 557.7 149.7 557.2 150.5 556.7 151.2 556.1 152 555.6 152.7 555 153.5 554.4 154.2 553.8 155 553.2 155.7 552.7 156.5 552.1 157.2 551.5 158 551 158.7 550.5 159.5 550 160.2 549.5 161 549 161.7 548.4 162.5 547.8 163.2 547.2 164 546.4 164.7 545.5 165.5 544.3 166.2 542.8 167 541 167.7 538.8 168.5 536 169.2 532.6 170 528.6 170.7 523.9 171.5 518.5 172.2 512.4 173 505.5 173.7 498.1 174.5 490.1 175.2 481.8 176 473.4 176.7 465.1 177.5 457 178.2 449.6 179 442.9 179.8 437.2 180.5 432.6 181.3 429.3 182 427.3 182.8 426.6 183.5 427.1 184.3 428.6 185 431 185.8 434 186.5 437.5 187.3 441.2 188 444.8 188.8 448.3 189.5 451.5 190.3 454.4 191 457 191.8 459.3 192.5 461.4 193.3 463.5 194 465.7 194.8 468.3 195.5 471.2 196.3 474.6 197 478.7 197.8 483.3 198.5 488.6 199.3 494.4 200 500.7 200.8 507.2 201.5 514 202.3 520.8 203 527.5 203.8 533.9 204.5 540 205.3 545.5 206 550.5 206.8 554.9 207.5 558.6 208.3 561.6 209 563.9 209.8 565.4 210.6 566.2 211.3 566.3 212.1 565.6 212.8 564.2 213.6 562 214.3 558.9 215.1 555 215.8 550.3 216.6 544.7 217.3 538.2 218.1 530.8 218.8 522.6 219.6 513.6 220.3 504 221.1 493.8 221.8 483.2 222.6 472.4 223.3 461.6 224.1 451 224.8 440.8 225.6 431.2 226.3 422.4 227.1 414.7 227.8 408.1 228.6 402.7 229.3 398.6 230.1 395.8 230.8 394.3 231.6 393.8 232.3 394.4 233.1 395.8 233.8 397.8 234.6 400.3 235.3 403.1 236.1 406.1 236.8 409.2 237.6 412.2 238.3 415.1 239.1 418 239.8 420.9 240.6 423.9 241.3 427.1 242.1 430.5 242.9 434.3 243.6 438.6 244.4 443.5 245.1 449 245.9 455 246.6 461.7 247.4 469 248.1 476.7 248.9 484.7 249.6 493 250.4 501.4 251.1 509.8 251.9 517.9 252.6 525.8 253.4 533.3 254.1 540.3 254.9 546.7 255.6 552.6 256.4 557.8 257.1 562.4 257.9 566.5 258.6 570 259.4 572.9 260.1 575.4 260.9 577.4 261.6 579.1 262.4 580.4 263.1 581.5 263.9 582.3 264.6 583 265.4 583.5 266.1 583.9 266.9 584.2 267.6 584.4 268.4 584.5 269.1 584.7 269.9 584.7 270.6 584.8 271.4 584.8" stroke="#000" stroke-width="1.1" fill="none"/>
<path d="M20.5 573.4 21.6 571.6 22.8 572.2 23.9 572.1 25 572.5 26.1 571.1 27.3 571.7 28.4 571.5 29.5 571.3 30.6 571.5 31.8 571.7 32.9 571.8 34 571.4 35.1 572.2 36.3 571.6 37.4 570 38.5 572.7 39.7 571.7 40.8 571.5 41.9 572.1 43 572.1 44.2 571.9 45.3 571.4 46.4 572 47.5 570.9 48.7 572.7 49.8 571.1 50.9 571.7 52 571.8 53.2 571.9 54.3 571.6 55.4 572 56.6 569.5 57.7 571.5 58.8 571.4 59.9 571.1 61.1 572.2 62.2 570.7 63.3 571.1 64.4 569.8 65.6 571.6 66.7 570.7 67.8 570.5 69 571.9 70.1 571.1 71.2 570.6 72.3 570.4 73.5 569.5 74.6 569.4 75.7 569.7 76.8 568.3 78 568.9 79.1 567.7 80.2 568.1 81.3 567.2 82.5 567.9 83.6 567.2 84.7 566.2 85.9 565.2 87 565.1 88.1 565 89.2 564.1 90.4 564.1 91.5 563.8 92.6 562.8 93.7 562 94.9 561.8 96 560.6 97.1 560.2 98.2 558.8 99.4 558.6 100.5 556.8 101.6 555.4 102.8 554.9 103.9 553.7 105 552.7 106.1 552.3 107.3 552 108.4 550.2 109.5 550.6 110.6 550 111.8 549.6 112.9 549.5 114 548.4 115.2 548.9 116.3 548.4 117.4 548.5 118.5 548.5 119.7 548.6 120.8 548.9 121.9 549.7 123 550.9 124.2 551.2 125.3 551.8 126.4 552.5 127.5 552.9 128.7 554.2 129.8 555.7 130.9 555.2 132.1 556.8 133.2 557.7 134.3 558.1 135.4 559 136.6 559.8 137.7 560.6 138.8 560.5 139.9 560.9 141.1 560.4 142.2 560.6 143.3 560.2 144.4 560 145.6 559.3 146.7 559.2 147.8 559 149 557.6 150.1 557 151.2 556.4 152.3 555.3 153.5 554.8 154.6 553.6 155.7 552.2 156.8 551.4 158 551.3 159.1 550.5 160.2 549.9 161.3 548.8 162.5 547.9 163.6 546.2 164.7 546 165.9 543.2 167 541.4 168.1 537 169.2 532.4 170.4 526.4 171.5 518.3 172.6 508.7 173.7 498.4 174.9 486.3 176 473.6 177.1 460.9 178.2 449.2 179.4 439.7 180.5 432.4 181.6 428.1 182.8 426.9 183.9 427.6 185 430.7 186.1 435.5 187.3 441.7 188.4 446.6 189.5 451.6 190.6 455.8 191.8 459.5 192.9 462.5 194 466.2 195.2 469.9 196.3 473.4 197.4 480.7 198.5 489.4 199.7 496.3 200.8 506.2 201.9 516 203 524.6 204.2 533.2 205.3 539.1 206.4 544.6 207.5 549.2 208.7 551.9 209.8 553.6 210.9 555.1 212.1 554.9 213.2 553.6 214.3 550.7 215.4 546.6 216.6 540 217.7 531.1 218.8 520.7 219.9 507.8 221.1 493.1 222.2 477.7 223.3 461 224.4 445.6 225.6 430.9 226.7 418.9 227.8 408.3 229 401.4 230.1 396.5 231.2 393.8 232.3 393.9 233.5 396.9 234.6 400.2 235.7 404.6 236.8 408.7 238 413.9 239.1 418.1 240.2 422.6 241.3 427.2 242.5 432 243.6 437.7 244.7 446 245.9 454.8 247 465.1 248.1 477 249.2 488.8 250.4 502 251.5 513.9 252.6 526.1 253.7 537 254.9 547 256 554.8 257.1 562.9 258.3 568.3 259.4 572.5 260.5 576.7 261.6 579.2 262.8 581.5 263.9 582.6 265 583.4 266.1 583.2 267.3 584.9 268.4 585.1 269.5 585 270.6 585 271.8 585.4 272.9 584.4 274 585.4 275.2 585 276.3 584.4 277.4 585.2 278.5 585.2 279.7 586 280.8 585.6 281.9 584.1 283 583.8 284.2 585 285.3 584.9 286.4 584.5 287.5 584.2 288.7 584.9 289.8 584.4 290.9 584.7 292.1 585.6 293.2 585.2 294.3 584.6 295.4 584.4 296.6 585 297.7 586.1 298.8 584.8 299.9 586.1 301.1 584.6 302.2 585 303.3 585.5 304.5 584.7 305.6 585.2 306.7 584.3 307.8 585.5 309 585.8 310.1 584.8 311.2 585.3 312.3 584.9 313.5 583.9 314.6 586.8 315.7 585.5 316.8 585.7 318 585.4 319.1 585.3 320.2 586.6 321.4 584.1 322.5 585 323.6 584.9 324.7 585.1 325.9 585.6 327 584.8 328.1 584.4 329.2 584.5 330.4 585.5 331.5 585.8 332.6 585.7 333.7 586.2 334.9 584.9 336 585.8" stroke="#000" stroke-width="1.1" fill="none"/>
<rect x="20.5" y="331" width="315.5" height="282" fill="none" stroke="#222" stroke-width="1.3"/>
<path d="M20.5 613v5.8" stroke="#222" stroke-width="1.3"/>
<path d="M43 613v3" stroke="#222" stroke-width="1.3"/>
<path d="M65.6 613v5.8" stroke="#222" stroke-width="1.3"/>
<path d="M88.1 613v3" stroke="#222" stroke-width="1.3"/>
<path d="M110.6 613v5.8" stroke="#222" stroke-width="1.3"/>
<path d="M133.2 613v3" stroke="#222" stroke-width="1.3"/>
<path d="M155.7 613v5.8" stroke="#222" stroke-width="1.3"/>
<path d="M178.2 613v3" stroke="#222" stroke-width="1.3"/>
<path d="M200.8 613v5.8" stroke="#222" stroke-width="1.3"/>
<path d="M223.3 613v3" stroke="#222" stroke-width="1.3"/>
<path d="M245.9 613v5.8" stroke="#222" stroke-width="1.3"/>
<path d="M268.4 613v3" stroke="#222" stroke-width="1.3"/>
<path d="M290.9 613v5.8" stroke="#222" stroke-width="1.3"/>
<path d="M313.5 613v3" stroke="#222" stroke-width="1.3"/>
<path d="M336 613v5.8" stroke="#222" stroke-width="1.3"/>
<text x="20.5" y="632.2" font-size="12" text-anchor="middle">42</text>
<text x="65.6" y="632.2" font-size="12" text-anchor="middle">40</text>
<text x="110.6" y="632.2" font-size="12" text-anchor="middle">38</text>
<text x="155.7" y="632.2" font-size="12" text-anchor="middle">36</text>
<text x="200.8" y="632.2" font-size="12" text-anchor="middle">34</text>
<text x="245.9" y="632.2" font-size="12" text-anchor="middle">32</text>
<text x="290.9" y="632.2" font-size="12" text-anchor="middle">30</text>
<text x="336" y="632.2" font-size="12" text-anchor="middle">28</text>
<text x="180.7" y="650.4" font-size="14.05" text-anchor="middle">Binding Energy (eV)</text>
<text transform="translate(13.2 476) rotate(-90)" font-size="14" text-anchor="middle">Intensity (a.u.)</text>
<text x="28.9" y="355.7" font-size="19.5" font-weight="bold" textLength="146.3" lengthAdjust="spacingAndGlyphs">(b) 100 mJ, 10 s</text>
<path d="M164.9 402V613" stroke="#777" stroke-width="0.9" stroke-dasharray="1 1.6"/>
<path d="M229.8 364.3V613" stroke="#777" stroke-width="0.9" stroke-dasharray="1 1.6"/>
<path d="M243 390.8V613" stroke="#777" stroke-width="0.9" stroke-dasharray="1 1.6"/>
<text x="222.6" y="355.4" font-size="14.8">W</text><text x="236.8" y="348.2" font-size="8.4">4+</text><text x="251.8" y="355.4" font-size="14.8">(2H)</text>
<text x="239.3" y="384.6" font-size="14.8">W</text><text x="253.5" y="377.4" font-size="8.4">4+</text><text x="268.5" y="384.6" font-size="14.8">(1T)</text>
<text x="159.9" y="392.6" font-size="14.8">W</text><text x="174.2" y="384.3" font-size="7.6">6+</text>
<text x="58" y="532.4" font-size="14.6">W 5p</text>
<text x="92.6" y="538.7" font-size="9">3/2</text>
<path d="M77.7 538.9L95.7 563.1" stroke="#111" stroke-width="1.1"/>
<path d="M99.6 568.3L92.1 563.3L96.9 559.7Z" fill="#111"/>
<path d="M72.3 896.6 73.1 896.6 73.8 896.5 74.6 896.5 75.3 896.4 76.1 896.3 76.8 896.2 77.6 896.1 78.3 896 79.1 895.8 79.8 895.7 80.6 895.5 81.3 895.3 82.1 895.1 82.8 894.8 83.6 894.6 84.4 894.3 85.1 893.9 85.9 893.6 86.6 893.2 87.4 892.8 88.1 892.4 88.9 891.9 89.6 891.4 90.4 890.9 91.1 890.3 91.9 889.8 92.6 889.1 93.4 888.5 94.1 887.9 94.9 887.2 95.6 886.5 96.4 885.9 97.1 885.2 97.9 884.5 98.6 883.8 99.4 883.1 100.1 882.4 100.9 881.8 101.6 881.1 102.4 880.5 103.1 880 103.9 879.4 104.6 878.9 105.4 878.5 106.1 878.1 106.9 877.8 107.6 877.5 108.4 877.3 109.1 877.1 109.9 877.1 110.6 877 111.4 877.1 112.1 877.2 112.9 877.4 113.6 877.6 114.4 877.9 115.2 878.3 115.9 878.7 116.7 879.2 117.4 879.7 118.2 880.3 118.9 880.9 119.7 881.5 120.4 882.2 121.2 882.8 121.9 883.5 122.7 884.2 123.4 885 124.2 885.7 124.9 886.4 125.7 887.1 126.4 887.8 127.2 888.5 127.9 889.2 128.7 889.9 129.4 890.5 130.2 891.1 130.9 891.7 131.7 892.2 132.4 892.8 133.2 893.3 133.9 893.7 134.7 894.2 135.4 894.6 136.2 894.9 136.9 895.3 137.7 895.6 138.4 895.9 139.2 896.2 139.9 896.4 140.7 896.7 141.4 896.9 142.2 897.1 142.9 897.2 143.7 897.4 144.4 897.5 145.2 897.7 145.9 897.8 146.7 897.9 147.5 898 148.2 898.1 149 898.1" stroke="#4adee4" stroke-width="1.1" fill="none"/>
<path d="M118.9 897.4 119.7 897.4 120.4 897.3 121.2 897.2 121.9 897.2 122.7 897.1 123.4 897 124.2 896.9 124.9 896.7 125.7 896.6 126.4 896.4 127.2 896.2 127.9 895.9 128.7 895.7 129.4 895.4 130.2 895.1 130.9 894.7 131.7 894.3 132.4 893.9 133.2 893.5 133.9 893 134.7 892.4 135.4 891.8 136.2 891.2 136.9 890.5 137.7 889.8 138.4 889.1 139.2 888.3 139.9 887.5 140.7 886.6 141.4 885.7 142.2 884.8 142.9 883.9 143.7 882.9 144.4 882 145.2 881 145.9 880 146.7 879.1 147.5 878.1 148.2 877.2 149 876.3 149.7 875.4 150.5 874.6 151.2 873.8 152 873.1 152.7 872.4 153.5 871.8 154.2 871.3 155 870.9 155.7 870.5 156.5 870.2 157.2 870.1 158 870 158.7 870 159.5 870.1 160.2 870.3 161 870.6 161.7 870.9 162.5 871.4 163.2 872 164 872.6 164.7 873.3 165.5 874 166.2 874.8 167 875.7 167.7 876.6 168.5 877.6 169.2 878.6 170 879.6 170.7 880.6 171.5 881.6 172.2 882.7 173 883.7 173.7 884.7 174.5 885.7 175.2 886.7 176 887.7 176.7 888.6 177.5 889.6 178.2 890.4 179 891.3 179.8 892.1 180.5 892.9 181.3 893.7 182 894.4 182.8 895.1 183.5 895.7 184.3 896.3 185 896.9 185.8 897.4 186.5 897.9 187.3 898.4 188 898.8 188.8 899.2 189.5 899.6 190.3 899.9 191 900.2 191.8 900.5 192.5 900.8 193.3 901.1 194 901.3 194.8 901.5 195.5 901.7 196.3 901.9 197 902.1 197.8 902.2" stroke="#4adee4" stroke-width="1.1" fill="none"/>
<path d="M154.2 898.3 155 898.2 155.7 898 156.5 897.8 157.2 897.5 158 897.2 158.7 896.7 159.5 896.1 160.2 895.3 161 894.3 161.7 893 162.5 891.5 163.2 889.7 164 887.5 164.7 884.9 165.5 881.8 166.2 878.2 167 874.2 167.7 869.6 168.5 864.5 169.2 858.8 170 852.7 170.7 846.1 171.5 839.1 172.2 831.8 173 824.3 173.7 816.7 174.5 809.1 175.2 801.8 176 794.9 176.7 788.4 177.5 782.7 178.2 777.8 179 773.8 179.8 770.9 180.5 769.2 181.3 768.6 182 769.2 182.8 771.1 183.5 774.1 184.3 778.1 185 783.1 185.8 788.9 186.5 795.5 187.3 802.5 188 810 188.8 817.7 189.5 825.4 190.3 833.1 191 840.6 191.8 847.8 192.5 854.6 193.3 860.9 194 866.8 194.8 872.1 195.5 876.9 196.3 881.1 197 884.9 197.8 888.1 198.5 890.9 199.3 893.2 200 895.2 200.8 896.9 201.5 898.2 202.3 899.3 203 900.2 203.8 901 204.5 901.5 205.3 902 206 902.4 206.8 902.7 207.5 902.9 208.3 903.1" stroke="#dc3a44" stroke-width="1.1" fill="none"/>
<path d="M200.8 902.5 201.5 902.4 202.3 902.3 203 902.1 203.8 901.7 204.5 901.3 205.3 900.8 206 900.1 206.8 899.1 207.5 898 208.3 896.5 209 894.7 209.8 892.5 210.6 889.8 211.3 886.7 212.1 883 212.8 878.6 213.6 873.6 214.3 867.9 215.1 861.5 215.8 854.4 216.6 846.7 217.3 838.2 218.1 829.2 218.8 819.8 219.6 809.9 220.3 799.9 221.1 789.8 221.8 779.9 222.6 770.3 223.3 761.3 224.1 753.1 224.8 745.8 225.6 739.6 226.3 734.8 227.1 731.4 227.8 729.5 228.6 729.2 229.3 730.5 230.1 733.4 230.8 737.7 231.6 743.4 232.3 750.3 233.1 758.3 233.8 767.2 234.6 776.7 235.3 786.6 236.1 796.8 236.8 807.1 237.6 817.2 238.3 827 239.1 836.4 239.8 845.3 240.6 853.5 241.3 861.1 242.1 868 242.9 874.2 243.6 879.7 244.4 884.5 245.1 888.7 245.9 892.3 246.6 895.4 247.4 897.9 248.1 900.1 248.9 901.9 249.6 903.3 250.4 904.5 251.1 905.4 251.9 906.2 252.6 906.7 253.4 907.2 254.1 907.5 254.9 907.8 255.6 908 256.4 908.2" stroke="#dc3a44" stroke-width="1.1" fill="none"/>
<path d="M176 899.3 176.7 899.2 177.5 899.1 178.2 898.9 179 898.7 179.8 898.4 180.5 898.1 181.3 897.7 182 897.1 182.8 896.5 183.5 895.8 184.3 894.9 185 894 185.8 892.9 186.5 891.7 187.3 890.4 188 889 188.8 887.6 189.5 886.1 190.3 884.6 191 883.2 191.8 881.9 192.5 880.7 193.3 879.6 194 878.7 194.8 878.1 195.5 877.7 196.3 877.5 197 877.6 197.8 878 198.5 878.6 199.3 879.5 200 880.6 200.8 881.9 201.5 883.3 202.3 884.8 203 886.4 203.8 888.1 204.5 889.7 205.3 891.3 206 892.8 206.8 894.3 207.5 895.6 208.3 896.8 209 897.9 209.8 898.9 210.6 899.8 211.3 900.5 212.1 901.2 212.8 901.7 213.6 902.2 214.3 902.6 215.1 902.9 215.8 903.2 216.6 903.4 217.3 903.6" stroke="#2a2ac8" stroke-width="1.1" fill="none"/>
<path d="M221.1 903.8 221.8 903.7 222.6 903.6 223.3 903.5 224.1 903.3 224.8 903 225.6 902.7 226.3 902.3 227.1 901.8 227.8 901.1 228.6 900.4 229.3 899.5 230.1 898.5 230.8 897.3 231.6 895.9 232.3 894.5 233.1 892.8 233.8 891.1 234.6 889.2 235.3 887.3 236.1 885.3 236.8 883.3 237.6 881.3 238.3 879.4 239.1 877.6 239.8 876 240.6 874.6 241.3 873.4 242.1 872.5 242.9 872 243.6 871.8 244.4 871.9 245.1 872.3 245.9 873.1 246.6 874.2 247.4 875.5 248.1 877.2 248.9 879 249.6 880.9 250.4 883 251.1 885.2 251.9 887.4 252.6 889.5 253.4 891.6 254.1 893.6 254.9 895.5 255.6 897.3 256.4 898.9 257.1 900.4 257.9 901.7 258.6 902.9 259.4 903.9 260.1 904.8 260.9 905.5 261.6 906.2 262.4 906.7 263.1 907.2 263.9 907.5 264.6 907.8 265.4 908.1 266.1 908.3 266.9 908.4 267.6 908.5" stroke="#2a2ac8" stroke-width="1.1" fill="none"/>
<path d="M54.3 896.3 55.1 896.2 55.8 896.2 56.6 896.1 57.3 896.1 58.1 896 58.8 896 59.6 895.9 60.3 895.9 61.1 895.8 61.8 895.7 62.6 895.7 63.3 895.6 64.1 895.5 64.8 895.5 65.6 895.4 66.3 895.3 67.1 895.2 67.8 895.1 68.6 895 69.3 894.9 70.1 894.8 70.8 894.7 71.6 894.6 72.3 894.5 73.1 894.4 73.8 894.3 74.6 894.2 75.3 894 76.1 893.9 76.8 893.8 77.6 893.7 78.3 893.6 79.1 893.5 79.8 893.3 80.6 893.2 81.3 893.1 82.1 893 82.8 892.9 83.6 892.7 84.4 892.6 85.1 892.5 85.9 892.4 86.6 892.3 87.4 892.2 88.1 892.1 88.9 892 89.6 891.9 90.4 891.8 91.1 891.8 91.9 891.7 92.6 891.6 93.4 891.6 94.1 891.5 94.9 891.5 95.6 891.4 96.4 891.4 97.1 891.4 97.9 891.4 98.6 891.3 99.4 891.3 100.1 891.3 100.9 891.4 101.6 891.4 102.4 891.4 103.1 891.4 103.9 891.5 104.6 891.5 105.4 891.6 106.1 891.7 106.9 891.7 107.6 891.8 108.4 891.9 109.1 892 109.9 892.1 110.6 892.2 111.4 892.3 112.1 892.4 112.9 892.5 113.6 892.7 114.4 892.8 115.2 892.9 115.9 893.1 116.7 893.2 117.4 893.3 118.2 893.5 118.9 893.6 119.7 893.8 120.4 893.9 121.2 894.1 121.9 894.2 122.7 894.3 123.4 894.5 124.2 894.6 124.9 894.8 125.7 894.9 126.4 895.1 127.2 895.2 127.9 895.3 128.7 895.5 129.4 895.6 130.2 895.7 130.9 895.9 131.7 896 132.4 896.1 133.2 896.2 133.9 896.4 134.7 896.5 135.4 896.6 136.2 896.7 136.9 896.8 137.7 896.9 138.4 897 139.2 897.1 139.9 897.2 140.7 897.2 141.4 897.3 142.2 897.4 142.9 897.5 143.7 897.6 144.4 897.6 145.2 897.7 145.9 897.8 146.7 897.8 147.5 897.9 148.2 898 149 898 149.7 898.1 150.5 898.1 151.2 898.2 152 898.2" stroke="#2f8a35" stroke-width="1.1" fill="none"/>
<path d="M62.6 896.6 63.3 896.5 64.1 896.5 64.8 896.5 65.6 896.5 66.3 896.5 67.1 896.5 67.8 896.5 68.6 896.5 69.3 896.4 70.1 896.4 70.8 896.4 71.6 896.4 72.3 896.4 73.1 896.4 73.8 896.4 74.6 896.3 75.3 896.3 76.1 896.3 76.8 896.3 77.6 896.3 78.3 896.2 79.1 896.2 79.8 896.2 80.6 896.2 81.3 896.2 82.1 896.1 82.8 896.1 83.6 896.1 84.4 896.1 85.1 896 85.9 896 86.6 896 87.4 896 88.1 895.9 88.9 895.9 89.6 895.9 90.4 895.9 91.1 895.9 91.9 895.8 92.6 895.8 93.4 895.8 94.1 895.8 94.9 895.7 95.6 895.7 96.4 895.7 97.1 895.7 97.9 895.7 98.6 895.6 99.4 895.6 100.1 895.6 100.9 895.6 101.6 895.6 102.4 895.6 103.1 895.5 103.9 895.5 104.6 895.5 105.4 895.5 106.1 895.5 106.9 895.5 107.6 895.5 108.4 895.5 109.1 895.5 109.9 895.5 110.6 895.5 111.4 895.4 112.1 895.4 112.9 895.5 113.6 895.5 114.4 895.5 115.2 895.5 115.9 895.5 116.7 895.5 117.4 895.5 118.2 895.5 118.9 895.5 119.7 895.5 120.4 895.5 121.2 895.6 121.9 895.6 122.7 895.6 123.4 895.6 124.2 895.7 124.9 895.7 125.7 895.7 126.4 895.7 127.2 895.8 127.9 895.8 128.7 895.8 129.4 895.9 130.2 895.9 130.9 895.9 131.7 896 132.4 896 133.2 896.1 133.9 896.1 134.7 896.2 135.4 896.2 136.2 896.2 136.9 896.3 137.7 896.3 138.4 896.4 139.2 896.4 139.9 896.5 140.7 896.5 141.4 896.6 142.2 896.6 142.9 896.7 143.7 896.7 144.4 896.8 145.2 896.9 145.9 896.9 146.7 897 147.5 897 148.2 897.1 149 897.1 149.7 897.2 150.5 897.3 151.2 897.3 152 897.4 152.7 897.4 153.5 897.5 154.2 897.5 155 897.6 155.7 897.7 156.5 897.7 157.2 897.8 158 897.8 158.7 897.9 159.5 898 160.2 898 161 898.1 161.7 898.2 162.5 898.2 163.2 898.3 164 898.3 164.7 898.4 165.5 898.5 166.2 898.5 167 898.6 167.7 898.6 168.5 898.7 169.2 898.8 170 898.8 170.7 898.9 171.5 899 172.2 899 173 899.1 173.7 899.1 174.5 899.2 175.2 899.3 176 899.3 176.7 899.4" stroke="#2f8a35" stroke-width="1.1" fill="none"/>
<path d="M76.8 897.3 78 897.3 79.1 897.4 80.2 897.4 81.3 897.5 82.5 897.5 83.6 897.5 84.7 897.6 85.9 897.6 87 897.7 88.1 897.7 89.2 897.8 90.4 897.8 91.5 897.9 92.6 897.9 93.7 898 94.9 898 96 898.1 97.1 898.1 98.2 898.2 99.4 898.3 100.5 898.3 101.6 898.4 102.8 898.4 103.9 898.5 105 898.5 106.1 898.6 107.3 898.6 108.4 898.7 109.5 898.7 110.6 898.8 111.8 898.8 112.9 898.9 114 898.9 115.2 899 116.3 899 117.4 899 118.5 899.1 119.7 899.1 120.8 899.1 121.9 899.2 123 899.2 124.2 899.2 125.3 899.3 126.4 899.3 127.5 899.3 128.7 899.3 129.8 899.3 130.9 899.3 132.1 899.4 133.2 899.4 134.3 899.4 135.4 899.4 136.6 899.4 137.7 899.4 138.8 899.4 139.9 899.4 141.1 899.4 142.2 899.4 143.3 899.4 144.4 899.4 145.6 899.4 146.7 899.4 147.8 899.4 149 899.4 150.1 899.4 151.2 899.4 152.3 899.4 153.5 899.4 154.6 899.4 155.7 899.4 156.8 899.4 158 899.4 159.1 899.4 160.2 899.4 161.3 899.4 162.5 899.5 163.6 899.5 164.7 899.5 165.9 899.5 167 899.6 168.1 899.6 169.2 899.6 170.4 899.7 171.5 899.7" stroke="#2a2ac8" stroke-width="1.1" fill="none"/>
<path d="M20.5 896.7 25 896.7 29.5 896.7 34 896.7 38.5 896.7 43 896.8 47.5 896.8 52 896.8 56.6 896.8 61.1 896.8 65.6 896.9 70.1 896.9 74.6 897 79.1 897 83.6 897.1 88.1 897.2 92.6 897.2 97.1 897.3 101.6 897.4 106.1 897.5 110.6 897.5 115.2 897.6 119.7 897.7 124.2 897.8 128.7 897.9 133.2 898 137.7 898.1 142.2 898.3 146.7 898.4 151.2 898.5 155.7 898.7 160.2 898.8 164.7 899 169.2 899.3 173.7 899.5 178.2 899.9 182.8 900.4 187.3 901.1 191.8 901.7 196.3 902.4 200.8 902.9 205.3 903.2 209.8 903.5 214.3 903.8 218.8 904 223.3 904.4 227.8 905 232.3 905.6 236.8 906.2 241.3 906.9 245.9 907.6 250.4 908.1 254.9 908.4 259.4 908.6 263.9 908.7 268.4 908.8 272.9 908.9 277.4 909 281.9 909 286.4 909 290.9 909.1 295.4 909.1 299.9 909.1 304.5 909.1 309 909.2 313.5 909.2 318 909.2 322.5 909.2 327 909.2 331.5 909.2 336 909.2" stroke="#2f8a35" stroke-width="1.1" fill="none"/>
<path d="M54.3 896.1 55.1 896 55.8 896 56.6 895.9 57.3 895.9 58.1 895.8 58.8 895.7 59.6 895.7 60.3 895.6 61.1 895.5 61.8 895.4 62.6 895.3 63.3 895.3 64.1 895.2 64.8 895 65.6 894.9 66.3 894.8 67.1 894.7 67.8 894.6 68.6 894.4 69.3 894.3 70.1 894.1 70.8 894 71.6 893.8 72.3 893.6 73.1 893.4 73.8 893.2 74.6 893 75.3 892.8 76.1 892.6 76.8 892.3 77.6 892 78.3 891.8 79.1 891.5 79.8 891.1 80.6 890.8 81.3 890.4 82.1 890.1 82.8 889.6 83.6 889.2 84.4 888.8 85.1 888.3 85.9 887.8 86.6 887.3 87.4 886.7 88.1 886.1 88.9 885.5 89.6 884.9 90.4 884.2 91.1 883.6 91.9 882.9 92.6 882.1 93.4 881.4 94.1 880.7 94.9 879.9 95.6 879.1 96.4 878.4 97.1 877.6 97.9 876.9 98.6 876.1 99.4 875.4 100.1 874.7 100.9 874 101.6 873.3 102.4 872.7 103.1 872.1 103.9 871.6 104.6 871.1 105.4 870.7 106.1 870.3 106.9 870 107.6 869.8 108.4 869.6 109.1 869.5 109.9 869.5 110.6 869.6 111.4 869.7 112.1 869.9 112.9 870.1 113.6 870.4 114.4 870.8 115.2 871.3 115.9 871.8 116.7 872.3 117.4 872.9 118.2 873.6 118.9 874.2 119.7 874.9 120.4 875.7 121.2 876.4 121.9 877.1 122.7 877.9 123.4 878.6 124.2 879.3 124.9 880.1 125.7 880.7 126.4 881.4 127.2 882 127.9 882.6 128.7 883.1 129.4 883.5 130.2 883.9 130.9 884.3 131.7 884.6 132.4 884.8 133.2 884.9 133.9 885 134.7 885 135.4 884.9 136.2 884.8 136.9 884.5 137.7 884.2 138.4 883.9 139.2 883.5 139.9 883 140.7 882.4 141.4 881.8 142.2 881.2 142.9 880.5 143.7 879.8 144.4 879 145.2 878.2 145.9 877.4 146.7 876.6 147.5 875.8 148.2 875 149 874.2 149.7 873.4 150.5 872.7 151.2 872 152 871.3 152.7 870.7 153.5 870.1 154.2 869.6 155 869.1 155.7 868.6 156.5 868.2 157.2 867.7 158 867.3 158.7 866.9 159.5 866.4 160.2 865.8 161 865.1 161.7 864.2 162.5 863.2 163.2 861.9 164 860.3 164.7 858.4 165.5 856.1 166.2 853.3 167 850.1 167.7 846.5 168.5 842.3 169.2 837.6 170 832.4 170.7 826.8 171.5 820.8 172.2 814.5 173 808 173.7 801.3 174.5 794.7 175.2 788.3 176 782.1 176.7 776.5 177.5 771.4 178.2 767.1 179 763.7 179.8 761.2 180.5 759.7 181.3 759.3 182 760 182.8 761.7 183.5 764.3 184.3 767.9 185 772.3 185.8 777.4 186.5 783 187.3 789 188 795.3 188.8 801.7 189.5 808.2 190.3 814.5 191 820.7 191.8 826.6 192.5 832.2 193.3 837.5 194 842.5 194.8 847.1 195.5 851.4 196.3 855.4 197 859.2 197.8 862.6 198.5 865.8 199.3 868.7 200 871.4 200.8 873.9 201.5 876.1 202.3 878.2 203 880 203.8 881.6 204.5 882.9 205.3 884 206 884.9 206.8 885.4 207.5 885.7 208.3 885.6 209 885 209.8 884.1 210.6 882.6 211.3 880.5 212.1 877.7 212.8 874.3 213.6 870.1 214.3 865.1 215.1 859.3 215.8 852.7 216.6 845.3 217.3 837.2 218.1 828.4 218.8 819.1 219.6 809.4 220.3 799.4 221.1 789.3 221.8 779.3 222.6 769.5 223.3 760.3 224.1 751.8 224.8 744.2 225.6 737.6 226.3 732.3 227.1 728.3 227.8 725.7 228.6 724.5 229.3 724.8 230.1 726.5 230.8 729.6 231.6 733.8 232.3 739.2 233.1 745.4 233.8 752.4 234.6 760 235.3 767.9 236.1 776 236.8 784.1 237.6 792.1 238.3 799.9 239.1 807.4 239.8 814.6 240.6 821.3 241.3 827.7 242.1 833.6 242.9 839.1 243.6 844.3 244.4 849.1 245.1 853.6 245.9 857.9 246.6 861.9 247.4 865.7 248.1 869.4 248.9 872.9 249.6 876.2 250.4 879.4 251.1 882.4 251.9 885.2 252.6 887.9 253.4 890.4 254.1 892.8 254.9 894.9 255.6 896.8 256.4 898.6 257.1 900.1 257.9 901.5 258.6 902.8 259.4 903.8 260.1 904.7 260.9 905.5 261.6 906.2 262.4 906.7 263.1 907.1 263.9 907.5 264.6 907.8 265.4 908.1 266.1 908.3 266.9 908.4 267.6 908.5 268.4 908.6" stroke="#000" stroke-width="1.1" fill="none"/>
<path d="M20.5 896.4 21.6 897.1 22.8 895.8 23.9 897 25 896.2 26.1 896.2 27.3 897.5 28.4 896.5 29.5 896.3 30.6 896.8 31.8 897 32.9 896.3 34 896.7 35.1 895.8 36.3 896.1 37.4 896.1 38.5 895.5 39.7 895.4 40.8 895.3 41.9 896.1 43 896.1 44.2 896 45.3 896.2 46.4 895.4 47.5 896.1 48.7 896.2 49.8 896.5 50.9 895.5 52 895.7 53.2 894.7 54.3 895.9 55.4 895.1 56.6 895.4 57.7 896.3 58.8 894.9 59.9 896 61.1 895.6 62.2 895.3 63.3 895.4 64.4 895.3 65.6 895.4 66.7 894.7 67.8 894.3 69 894.1 70.1 893.7 71.2 893.9 72.3 893.3 73.5 893.8 74.6 892.3 75.7 892.2 76.8 891.9 78 891.1 79.1 892.2 80.2 890 81.3 890.3 82.5 889.6 83.6 889.9 84.7 887.7 85.9 888.2 87 886.7 88.1 886.1 89.2 884.9 90.4 884.5 91.5 882.8 92.6 882.1 93.7 881.2 94.9 880.6 96 877.8 97.1 878.2 98.2 876.9 99.4 875.2 100.5 874.4 101.6 873.1 102.8 873.1 103.9 871.7 105 870.8 106.1 870.3 107.3 869.8 108.4 869.6 109.5 869.2 110.6 870.4 111.8 869 112.9 868.7 114 870.6 115.2 871.2 116.3 872.2 117.4 872.9 118.5 873.8 119.7 875.1 120.8 876.4 121.9 877 123 878.1 124.2 880.1 125.3 880.6 126.4 881 127.5 883.2 128.7 883.4 129.8 883.5 130.9 883.8 132.1 884.8 133.2 884.6 134.3 884.6 135.4 884.4 136.6 884.5 137.7 884.7 138.8 883.5 139.9 882.4 141.1 882.4 142.2 881.2 143.3 880.5 144.4 879.5 145.6 877.8 146.7 876.6 147.8 875.4 149 873.8 150.1 873.3 151.2 872.5 152.3 871.1 153.5 870 154.6 869.2 155.7 868.3 156.8 867.6 158 867.1 159.1 866.3 160.2 865.6 161.3 864 162.5 863.3 163.6 861.1 164.7 857.9 165.9 853.7 167 850 168.1 844.6 169.2 836.9 170.4 828.8 171.5 819.7 172.6 810.2 173.7 799.3 174.9 789.7 176 779.4 177.1 771.2 178.2 763.7 179.4 758.4 180.5 755.2 181.6 755.2 182.8 757.7 183.9 762.7 185 769.2 186.1 777.1 187.3 786.9 188.4 797.1 189.5 806.8 190.6 816.5 191.8 825.8 192.9 834.8 194 842.4 195.2 848.8 196.3 855.5 197.4 860.6 198.5 865.4 199.7 870.6 200.8 874.2 201.9 876.9 203 880 204.2 882.5 205.3 883.8 206.4 885.1 207.5 885.9 208.7 884.6 209.8 884.2 210.9 881.9 212.1 877.9 213.2 871.7 214.3 865.2 215.4 855.6 216.6 845.3 217.7 832.6 218.8 818.3 219.9 802.6 221.1 786.8 222.2 771.5 223.3 755.6 224.4 742.5 225.6 731.2 226.7 722.5 227.8 718.7 229 716.6 230.1 720 231.2 724.3 232.3 733 233.5 745.1 234.6 757.2 235.7 769.7 236.8 782.7 238 794.5 239.1 806.7 240.2 817.4 241.3 827.5 242.5 836.7 243.6 844.3 244.7 851.5 245.9 857.6 247 863.7 248.1 869.4 249.2 874.4 250.4 879.9 251.5 883.5 252.6 888.7 253.7 891.2 254.9 895.3 256 897.4 257.1 900.8 258.3 902.2 259.4 904 260.5 905.4 261.6 905.9 262.8 906.5 263.9 906.7 265 908.4 266.1 908 267.3 908.2 268.4 908.6 269.5 909.9 270.6 907.8 271.8 909 272.9 908.7 274 909.2 275.2 907.9 276.3 908.7 277.4 909.5 278.5 909.9 279.7 910 280.8 908.5 281.9 909 283 909 284.2 908.2 285.3 908.2 286.4 909.5 287.5 909.2 288.7 909 289.8 909.8 290.9 908.5 292.1 909.4 293.2 909.1 294.3 909.1 295.4 909.4 296.6 909.2 297.7 909.3 298.8 909.3 299.9 910.3 301.1 908.9 302.2 909.7 303.3 909.5 304.5 908.9 305.6 909.6 306.7 908.6 307.8 909.8 309 908.7 310.1 908.9 311.2 909.4 312.3 909.7 313.5 909.7 314.6 909.7 315.7 909 316.8 908.6 318 909.5 319.1 909.4 320.2 908.6 321.4 909.8 322.5 909.3 323.6 908.6 324.7 909.5 325.9 908.4 327 908.7 328.1 909.4 329.2 908.3 330.4 909.2 331.5 908.4 332.6 909.6 333.7 908.8 334.9 909.3 336 908.3" stroke="#000" stroke-width="1.1" fill="none"/>
<rect x="20.5" y="659.5" width="315.5" height="281.5" fill="none" stroke="#222" stroke-width="1.3"/>
<path d="M20.5 941v5.8" stroke="#222" stroke-width="1.3"/>
<path d="M43 941v3" stroke="#222" stroke-width="1.3"/>
<path d="M65.6 941v5.8" stroke="#222" stroke-width="1.3"/>
<path d="M88.1 941v3" stroke="#222" stroke-width="1.3"/>
<path d="M110.6 941v5.8" stroke="#222" stroke-width="1.3"/>
<path d="M133.2 941v3" stroke="#222" stroke-width="1.3"/>
<path d="M155.7 941v5.8" stroke="#222" stroke-width="1.3"/>
<path d="M178.2 941v3" stroke="#222" stroke-width="1.3"/>
<path d="M200.8 941v5.8" stroke="#222" stroke-width="1.3"/>
<path d="M223.3 941v3" stroke="#222" stroke-width="1.3"/>
<path d="M245.9 941v5.8" stroke="#222" stroke-width="1.3"/>
<path d="M268.4 941v3" stroke="#222" stroke-width="1.3"/>
<path d="M290.9 941v5.8" stroke="#222" stroke-width="1.3"/>
<path d="M313.5 941v3" stroke="#222" stroke-width="1.3"/>
<path d="M336 941v5.8" stroke="#222" stroke-width="1.3"/>
<text x="20.5" y="960.2" font-size="12" text-anchor="middle">42</text>
<text x="65.6" y="960.2" font-size="12" text-anchor="middle">40</text>
<text x="110.6" y="960.2" font-size="12" text-anchor="middle">38</text>
<text x="155.7" y="960.2" font-size="12" text-anchor="middle">36</text>
<text x="200.8" y="960.2" font-size="12" text-anchor="middle">34</text>
<text x="245.9" y="960.2" font-size="12" text-anchor="middle">32</text>
<text x="290.9" y="960.2" font-size="12" text-anchor="middle">30</text>
<text x="336" y="960.2" font-size="12" text-anchor="middle">28</text>
<text x="180.7" y="978.4" font-size="14.05" text-anchor="middle">Binding Energy (eV)</text>
<text transform="translate(13.2 804.2) rotate(-90)" font-size="14" text-anchor="middle">Intensity (a.u.)</text>
<text x="29" y="682.7" font-size="19.5" font-weight="bold" textLength="145" lengthAdjust="spacingAndGlyphs">(c) 200 mJ, 10 s</text>
<path d="M157.4 727.8V941" stroke="#777" stroke-width="0.9" stroke-dasharray="1 1.6"/>
<path d="M228.6 691.8V941" stroke="#777" stroke-width="0.9" stroke-dasharray="1 1.6"/>
<path d="M243 720.3V941" stroke="#777" stroke-width="0.9" stroke-dasharray="1 1.6"/>
<text x="222.6" y="681.9" font-size="14.8">W</text><text x="236.8" y="674.7" font-size="8.4">4+</text><text x="251.8" y="681.9" font-size="14.8">(2H)</text>
<text x="236.8" y="711.6" font-size="14.8">W</text><text x="251" y="704.4" font-size="8.4">4+</text><text x="266" y="711.6" font-size="14.8">(1T)</text>
<text x="150.4" y="719.6" font-size="14.8">W</text><text x="164.7" y="711.3" font-size="7.6">6+</text>
<text x="54.4" y="823.7" font-size="14.6">W 5p</text>
<text x="89" y="830" font-size="9">3/2</text>
<path d="M73.6 834.5L94 886.3" stroke="#111" stroke-width="1.1"/>
<path d="M96.4 892.3L90.5 885.5L96.1 883.3Z" fill="#111"/>
<path d="M420.7 242.9 421.4 242.9 422.2 242.8 422.9 242.8 423.7 242.7 424.4 242.6 425.2 242.5 425.9 242.4 426.7 242.3 427.4 242.1 428.2 242 429 241.8 429.7 241.6 430.5 241.4 431.2 241.2 432 240.9 432.7 240.7 433.5 240.4 434.2 240.1 435 239.7 435.7 239.4 436.5 239 437.2 238.6 438 238.1 438.7 237.7 439.5 237.2 440.2 236.7 441 236.2 441.7 235.7 442.5 235.1 443.2 234.6 444 234 444.7 233.4 445.5 232.8 446.2 232.3 447 231.7 447.7 231.1 448.5 230.6 449.2 230.1 450 229.5 450.7 229.1 451.5 228.6 452.3 228.2 453 227.8 453.8 227.4 454.5 227.1 455.3 226.9 456 226.7 456.8 226.5 457.5 226.4 458.3 226.3 459 226.3 459.8 226.4 460.5 226.5 461.3 226.6 462 226.8 462.8 227.1 463.5 227.4 464.3 227.7 465 228.1 465.8 228.6 466.5 229 467.3 229.5 468 230 468.8 230.5 469.5 231.1 470.3 231.7 471 232.2 471.8 232.8 472.5 233.4 473.3 234 474.1 234.5 474.8 235.1 475.6 235.7 476.3 236.2 477.1 236.7 477.8 237.2 478.6 237.7 479.3 238.2 480.1 238.6 480.8 239 481.6 239.4 482.3 239.8 483.1 240.2 483.8 240.5 484.6 240.8 485.3 241.1 486.1 241.4 486.8 241.6 487.6 241.9 488.3 242.1 489.1 242.3 489.8 242.5 490.6 242.6 491.3 242.8 492.1 242.9 492.8 243.1 493.6 243.2 494.3 243.3 495.1 243.4 495.8 243.5 496.6 243.6" stroke="#4adee4" stroke-width="1.1" fill="none"/>
<path d="M465.8 243 466.5 243 467.3 242.9 468 242.8 468.8 242.8 469.5 242.7 470.3 242.6 471 242.5 471.8 242.3 472.5 242.2 473.3 242 474.1 241.8 474.8 241.6 475.6 241.4 476.3 241.1 477.1 240.9 477.8 240.6 478.6 240.2 479.3 239.9 480.1 239.5 480.8 239.1 481.6 238.6 482.3 238.2 483.1 237.7 483.8 237.1 484.6 236.6 485.3 236 486.1 235.4 486.8 234.7 487.6 234 488.3 233.4 489.1 232.6 489.8 231.9 490.6 231.2 491.3 230.4 492.1 229.7 492.8 228.9 493.6 228.2 494.3 227.4 495.1 226.7 495.8 226 496.6 225.3 497.4 224.6 498.1 224 498.9 223.4 499.6 222.8 500.4 222.3 501.1 221.9 501.9 221.5 502.6 221.1 503.4 220.8 504.1 220.6 504.9 220.5 505.6 220.4 506.4 220.4 507.1 220.5 507.9 220.7 508.6 220.9 509.4 221.2 510.1 221.5 510.9 221.9 511.6 222.4 512.4 222.9 513.1 223.5 513.9 224.2 514.6 224.8 515.4 225.6 516.1 226.3 516.9 227.1 517.6 228 518.4 228.8 519.1 229.7 519.9 230.6 520.7 231.5 521.4 232.3 522.2 233.2 522.9 234.1 523.7 235 524.4 235.9 525.2 236.7 525.9 237.6 526.7 238.4 527.4 239.1 528.2 239.9 528.9 240.6 529.7 241.3 530.4 242 531.2 242.6 531.9 243.2 532.7 243.7 533.4 244.3 534.2 244.8 534.9 245.2 535.7 245.7 536.4 246.1 537.2 246.4 537.9 246.8 538.7 247.1 539.4 247.4 540.2 247.6 540.9 247.9 541.7 248.1 542.5 248.3 543.2 248.5 544 248.6 544.7 248.8 545.5 248.9 546.2 249 547 249.1 547.7 249.2" stroke="#4adee4" stroke-width="1.1" fill="none"/>
<path d="M501.1 243.8 501.9 243.7 502.6 243.5 503.4 243.2 504.1 242.7 504.9 242.1 505.6 241.2 506.4 240 507.1 238.5 507.9 236.6 508.6 234.1 509.4 231.1 510.1 227.4 510.9 223 511.6 217.9 512.4 212 513.1 205.3 513.9 198 514.6 190 515.4 181.5 516.1 172.6 516.9 163.7 517.6 155 518.4 146.6 519.1 139 519.9 132.3 520.7 126.8 521.4 122.8 522.2 120.4 522.9 119.7 523.7 120.7 524.4 123.4 525.2 127.7 525.9 133.4 526.7 140.4 527.4 148.3 528.2 156.8 528.9 165.8 529.7 174.9 530.4 183.9 531.2 192.6 531.9 200.8 532.7 208.3 533.4 215.1 534.2 221.2 534.9 226.5 535.7 231 536.4 234.8 537.2 238 537.9 240.6 538.7 242.7 539.4 244.3 540.2 245.6 540.9 246.6 541.7 247.4 542.5 247.9 543.2 248.4 544 248.7 544.7 248.9" stroke="#dc3a44" stroke-width="1.1" fill="none"/>
<path d="M544.7 249 545.5 248.9 546.2 248.8 547 248.6 547.7 248.3 548.5 247.9 549.2 247.3 550 246.5 550.7 245.5 551.5 244.3 552.2 242.6 553 240.6 553.7 238.1 554.5 235 555.2 231.4 556 227 556.7 221.9 557.5 216.1 558.2 209.4 559 202 559.7 193.8 560.5 184.8 561.2 175.3 562 165.3 562.7 155 563.5 144.5 564.2 134.2 565 124.2 565.8 114.8 566.5 106.2 567.3 98.8 568 92.7 568.8 88.1 569.5 85.2 570.3 84 571 84.6 571.8 87 572.5 91.1 573.3 96.8 574 103.9 574.8 112.2 575.5 121.4 576.3 131.4 577 141.8 577.8 152.5 578.5 163.1 579.3 173.4 580 183.4 580.8 192.8 581.5 201.5 582.3 209.5 583 216.8 583.8 223.2 584.5 228.8 585.3 233.7 586 237.8 586.8 241.3 587.6 244.3 588.3 246.7 589.1 248.6 589.8 250.2 590.6 251.5 591.3 252.5 592.1 253.2 592.8 253.8 593.6 254.2 594.3 254.5 595.1 254.8 595.8 254.9" stroke="#dc3a44" stroke-width="1.1" fill="none"/>
<path d="M515.4 245 516.1 244.8 516.9 244.7 517.6 244.4 518.4 244 519.1 243.5 519.9 242.7 520.7 241.8 521.4 240.5 522.2 238.9 522.9 237 523.7 234.6 524.4 231.7 525.2 228.3 525.9 224.4 526.7 219.9 527.4 214.9 528.2 209.5 528.9 203.7 529.7 197.7 530.4 191.5 531.2 185.3 531.9 179.3 532.7 173.8 533.4 168.8 534.2 164.6 534.9 161.3 535.7 159.1 536.4 158 537.2 158.1 537.9 159.4 538.7 161.9 539.4 165.4 540.2 169.8 540.9 175 541.7 180.8 542.5 186.9 543.2 193.3 544 199.7 544.7 205.9 545.5 211.9 546.2 217.5 547 222.6 547.7 227.3 548.5 231.3 549.2 234.9 550 237.9 550.7 240.5 551.5 242.6 552.2 244.3 553 245.7 553.7 246.8 554.5 247.6 555.2 248.3 556 248.8 556.7 249.2 557.5 249.5 558.2 249.7" stroke="#2a2ac8" stroke-width="1.1" fill="none"/>
<path d="M560.5 250 561.2 249.9 562 249.7 562.7 249.5 563.5 249.2 564.2 248.8 565 248.3 565.8 247.5 566.5 246.6 567.3 245.4 568 243.8 568.8 241.9 569.5 239.6 570.3 236.8 571 233.5 571.8 229.7 572.5 225.2 573.3 220.2 574 214.6 574.8 208.5 575.5 201.9 576.3 194.8 577 187.5 577.8 180 578.5 172.6 579.3 165.3 580 158.4 580.8 152 581.5 146.4 582.3 141.7 583 138.1 583.8 135.7 584.5 134.5 585.3 134.7 586 136.1 586.8 138.8 587.6 142.7 588.3 147.7 589.1 153.6 589.8 160.1 590.6 167.3 591.3 174.8 592.1 182.4 592.8 190.1 593.6 197.5 594.3 204.7 595.1 211.5 595.8 217.8 596.6 223.5 597.3 228.7 598.1 233.3 598.8 237.3 599.6 240.7 600.3 243.6 601.1 246.1 601.8 248.1 602.6 249.8 603.3 251.1 604.1 252.2 604.8 253 605.6 253.7 606.3 254.2 607.1 254.6 607.8 254.9 608.6 255.1 609.4 255.2" stroke="#2a2ac8" stroke-width="1.1" fill="none"/>
<path d="M406.4 242.8 407.2 242.7 407.9 242.7 408.7 242.7 409.4 242.6 410.2 242.6 410.9 242.5 411.7 242.5 412.4 242.4 413.2 242.4 413.9 242.3 414.7 242.2 415.4 242.2 416.2 242.1 416.9 242 417.7 242 418.4 241.9 419.2 241.8 419.9 241.7 420.7 241.7 421.4 241.6 422.2 241.5 422.9 241.4 423.7 241.3 424.4 241.2 425.2 241.1 425.9 241 426.7 240.9 427.4 240.8 428.2 240.7 429 240.6 429.7 240.5 430.5 240.4 431.2 240.3 432 240.2 432.7 240.1 433.5 240 434.2 239.9 435 239.7 435.7 239.6 436.5 239.5 437.2 239.4 438 239.3 438.7 239.3 439.5 239.2 440.2 239.1 441 239 441.7 238.9 442.5 238.8 443.2 238.8 444 238.7 444.7 238.6 445.5 238.6 446.2 238.5 447 238.5 447.7 238.4 448.5 238.4 449.2 238.4 450 238.3 450.7 238.3 451.5 238.3 452.3 238.3 453 238.3 453.8 238.3 454.5 238.3 455.3 238.4 456 238.4 456.8 238.4 457.5 238.5 458.3 238.5 459 238.6 459.8 238.6 460.5 238.7 461.3 238.7 462 238.8 462.8 238.9 463.5 239 464.3 239.1 465 239.1 465.8 239.2 466.5 239.3 467.3 239.4 468 239.5 468.8 239.6 469.5 239.7 470.3 239.8 471 240 471.8 240.1 472.5 240.2 473.3 240.3 474.1 240.4 474.8 240.5 475.6 240.6 476.3 240.7 477.1 240.8 477.8 240.9 478.6 241 479.3 241.2 480.1 241.3 480.8 241.4 481.6 241.5 482.3 241.6 483.1 241.7 483.8 241.8 484.6 241.9 485.3 242 486.1 242.1 486.8 242.2 487.6 242.3 488.3 242.4 489.1 242.5 489.8 242.6 490.6 242.7 491.3 242.7 492.1 242.8 492.8 242.9 493.6 243 494.3 243.1 495.1 243.2 495.8 243.3 496.6 243.4 497.4 243.5 498.1 243.6 498.9 243.6 499.6 243.7 500.4 243.8 501.1 243.9 501.9 244" stroke="#2f8a35" stroke-width="1.1" fill="none"/>
<path d="M406.4 242.8 407.2 242.8 407.9 242.8 408.7 242.8 409.4 242.8 410.2 242.8 410.9 242.7 411.7 242.7 412.4 242.7 413.2 242.7 413.9 242.6 414.7 242.6 415.4 242.6 416.2 242.6 416.9 242.5 417.7 242.5 418.4 242.5 419.2 242.5 419.9 242.4 420.7 242.4 421.4 242.4 422.2 242.3 422.9 242.3 423.7 242.3 424.4 242.2 425.2 242.2 425.9 242.2 426.7 242.2 427.4 242.1 428.2 242.1 429 242.1 429.7 242 430.5 242 431.2 242 432 241.9 432.7 241.9 433.5 241.9 434.2 241.8 435 241.8 435.7 241.8 436.5 241.7 437.2 241.7 438 241.7 438.7 241.6 439.5 241.6 440.2 241.6 441 241.5 441.7 241.5 442.5 241.5 443.2 241.4 444 241.4 444.7 241.4 445.5 241.4 446.2 241.3 447 241.3 447.7 241.3 448.5 241.3 449.2 241.3 450 241.2 450.7 241.2 451.5 241.2 452.3 241.2 453 241.2 453.8 241.2 454.5 241.2 455.3 241.2 456 241.1 456.8 241.1 457.5 241.1 458.3 241.1 459 241.1 459.8 241.1 460.5 241.1 461.3 241.1 462 241.1 462.8 241.1 463.5 241.2 464.3 241.2 465 241.2 465.8 241.2 466.5 241.2 467.3 241.2 468 241.2 468.8 241.2 469.5 241.3 470.3 241.3 471 241.3 471.8 241.3 472.5 241.4 473.3 241.4 474.1 241.4 474.8 241.4 475.6 241.5 476.3 241.5 477.1 241.5 477.8 241.6 478.6 241.6 479.3 241.6 480.1 241.7 480.8 241.7 481.6 241.7 482.3 241.8 483.1 241.8 483.8 241.8 484.6 241.9 485.3 241.9 486.1 242 486.8 242.1 487.6 242.1 488.3 242.2 489.1 242.2 489.8 242.3 490.6 242.4 491.3 242.4 492.1 242.5 492.8 242.6 493.6 242.6 494.3 242.7 495.1 242.8 495.8 242.9 496.6 242.9 497.4 243 498.1 243.1 498.9 243.2 499.6 243.3 500.4 243.3 501.1 243.4 501.9 243.5 502.6 243.6 503.4 243.7 504.1 243.8 504.9 243.8 505.6 243.9 506.4 244 507.1 244.1 507.9 244.2 508.6 244.3 509.4 244.4 510.1 244.4 510.9 244.5 511.6 244.6 512.4 244.7 513.1 244.8 513.9 244.8 514.6 244.9 515.4 245 516.1 245.1 516.9 245.2 517.6 245.3" stroke="#2f8a35" stroke-width="1.1" fill="none"/>
<path d="M425.6 243.6 426.7 243.6 427.8 243.6 429 243.7 430.1 243.7 431.2 243.7 432.3 243.7 433.5 243.8 434.6 243.8 435.7 243.9 436.8 243.9 438 243.9 439.1 244 440.2 244 441.4 244.1 442.5 244.1 443.6 244.1 444.7 244.2 445.9 244.2 447 244.3 448.1 244.3 449.2 244.3 450.4 244.4 451.5 244.4 452.6 244.5 453.8 244.5 454.9 244.6 456 244.6 457.1 244.6 458.3 244.7 459.4 244.7 460.5 244.7 461.6 244.8 462.8 244.8 463.9 244.8 465 244.9 466.2 244.9 467.3 244.9 468.4 244.9 469.5 244.9 470.7 245 471.8 245 472.9 245 474.1 245 475.2 245 476.3 245 477.4 245 478.6 245 479.7 245 480.8 245 481.9 244.9 483.1 244.9 484.2 244.9 485.3 244.9 486.5 244.9 487.6 244.9 488.7 244.9 489.8 245 491 245 492.1 245 493.2 245 494.3 245 495.5 245.1 496.6 245.1 497.7 245.1 498.9 245.1 500 245.2 501.1 245.2 502.2 245.3 503.4 245.3 504.5 245.3 505.6 245.4 506.7 245.4 507.9 245.5 509 245.5 510.1 245.6 511.3 245.6 512.4 245.7 513.5 245.8 514.6 245.8 515.8 245.9 516.9 246 518 246 519.1 246.1 520.3 246.3 521.4 246.4 522.5 246.5" stroke="#2a2ac8" stroke-width="1.1" fill="none"/>
<path d="M361.3 243.2 365.8 243.2 370.3 243.2 374.8 243.2 379.3 243.2 383.9 243.2 388.4 243.2 392.9 243.2 397.4 243.2 401.9 243.2 406.4 243.2 410.9 243.2 415.4 243.2 419.9 243.2 424.4 243.2 429 243.3 433.5 243.3 438 243.3 442.5 243.3 447 243.3 451.5 243.3 456 243.3 460.5 243.3 465 243.3 469.5 243.4 474.1 243.4 478.6 243.4 483.1 243.4 487.6 243.5 492.1 243.7 496.6 243.9 501.1 244.2 505.6 244.6 510.1 244.9 514.6 245.3 519.1 245.7 523.7 246.4 528.2 247.1 532.7 247.9 537.2 248.6 541.7 249.1 546.2 249.4 550.7 249.7 555.2 250 559.7 250.2 564.2 250.6 568.8 251.2 573.3 251.9 577.8 252.6 582.3 253.5 586.8 254.4 591.3 255.1 595.8 255.3 600.3 255.4 604.8 255.5 609.4 255.6 613.9 255.6 618.4 255.7 622.9 255.7 627.4 255.7 631.9 255.8 636.4 255.8 640.9 255.8 645.4 255.8 649.9 255.8 654.5 255.9 659 255.9 663.5 255.9 668 255.9 672.5 255.9 677 255.9" stroke="#2f8a35" stroke-width="1.1" fill="none"/>
<path d="M406.4 242.4 407.2 242.3 407.9 242.3 408.7 242.2 409.4 242.1 410.2 242.1 410.9 242 411.7 241.9 412.4 241.8 413.2 241.7 413.9 241.7 414.7 241.6 415.4 241.4 416.2 241.3 416.9 241.2 417.7 241.1 418.4 241 419.2 240.8 419.9 240.7 420.7 240.5 421.4 240.3 422.2 240.2 422.9 240 423.7 239.8 424.4 239.6 425.2 239.3 425.9 239.1 426.7 238.8 427.4 238.6 428.2 238.3 429 237.9 429.7 237.6 430.5 237.3 431.2 236.9 432 236.5 432.7 236.1 433.5 235.7 434.2 235.2 435 234.7 435.7 234.2 436.5 233.7 437.2 233.2 438 232.6 438.7 232 439.5 231.4 440.2 230.8 441 230.2 441.7 229.5 442.5 228.9 443.2 228.2 444 227.5 444.7 226.9 445.5 226.2 446.2 225.5 447 224.9 447.7 224.3 448.5 223.7 449.2 223.1 450 222.5 450.7 222 451.5 221.5 452.3 221.1 453 220.6 453.8 220.3 454.5 220 455.3 219.7 456 219.5 456.8 219.4 457.5 219.3 458.3 219.3 459 219.3 459.8 219.4 460.5 219.5 461.3 219.7 462 220 462.8 220.3 463.5 220.6 464.3 221 465 221.5 465.8 222 466.5 222.5 467.3 223 468 223.5 468.8 224.1 469.5 224.7 470.3 225.3 471 225.8 471.8 226.4 472.5 227 473.3 227.5 474.1 228 474.8 228.5 475.6 229 476.3 229.4 477.1 229.8 477.8 230.1 478.6 230.4 479.3 230.6 480.1 230.8 480.8 231 481.6 231 482.3 231 483.1 231 483.8 230.9 484.6 230.8 485.3 230.6 486.1 230.3 486.8 230 487.6 229.7 488.3 229.3 489.1 228.9 489.8 228.4 490.6 227.9 491.3 227.4 492.1 226.8 492.8 226.3 493.6 225.7 494.3 225.1 495.1 224.5 495.8 223.9 496.6 223.4 497.4 222.8 498.1 222.2 498.9 221.7 499.6 221.2 500.4 220.7 501.1 220.2 501.9 219.7 502.6 219.1 503.4 218.5 504.1 217.9 504.9 217.1 505.6 216.2 506.4 215 507.1 213.5 507.9 211.7 508.6 209.5 509.4 206.7 510.1 203.4 510.9 199.4 511.6 194.6 512.4 189.2 513.1 183.1 513.9 176.2 514.6 168.8 515.4 160.8 516.1 152.6 516.9 144.1 517.6 135.8 518.4 127.8 519.1 120.3 519.9 113.6 520.7 107.9 521.4 103.3 522.2 100 522.9 98 523.7 97.3 524.4 97.8 525.2 99.3 525.9 101.7 526.7 104.7 527.4 108.2 528.2 111.9 528.9 115.5 529.7 119 530.4 122.2 531.2 125.1 531.9 127.7 532.7 130 533.4 132.1 534.2 134.2 534.9 136.5 535.7 139 536.4 141.9 537.2 145.3 537.9 149.4 538.7 154 539.4 159.3 540.2 165.1 540.9 171.4 541.7 178 542.5 184.7 543.2 191.5 544 198.2 544.7 204.6 545.5 210.7 546.2 216.3 547 221.3 547.7 225.6 548.5 229.3 549.2 232.3 550 234.6 550.7 236.1 551.5 236.9 552.2 237 553 236.3 553.7 234.9 554.5 232.7 555.2 229.6 556 225.7 556.7 221 557.5 215.4 558.2 208.9 559 201.5 559.7 193.3 560.5 184.4 561.2 174.7 562 164.5 562.7 153.9 563.5 143.1 564.2 132.3 565 121.7 565.8 111.5 566.5 101.9 567.3 93.1 568 85.4 568.8 78.8 569.5 73.4 570.3 69.4 571 66.6 571.8 65 572.5 64.5 573.3 65.1 574 66.5 574.8 68.5 575.5 71 576.3 73.9 577 76.8 577.8 79.9 578.5 82.9 579.3 85.8 580 88.7 580.8 91.7 581.5 94.6 582.3 97.8 583 101.2 583.8 105.1 584.5 109.4 585.3 114.2 586 119.7 586.8 125.8 587.6 132.4 588.3 139.7 589.1 147.4 589.8 155.4 590.6 163.7 591.3 172.1 592.1 180.5 592.8 188.6 593.6 196.5 594.3 204 595.1 211 595.8 217.4 596.6 223.3 597.3 228.5 598.1 233.2 598.8 237.2 599.6 240.7 600.3 243.6 601.1 246.1 601.8 248.1 602.6 249.8 603.3 251.1 604.1 252.2 604.8 253 605.6 253.7 606.3 254.2 607.1 254.6 607.8 254.9 608.6 255.1 609.4 255.2 610.1 255.4 610.9 255.4 611.6 255.5 612.4 255.6" stroke="#000" stroke-width="1.1" fill="none"/>
<path d="M361.3 244.1 362.4 242.3 363.6 242.9 364.7 242.8 365.8 243.2 366.9 241.8 368.1 242.4 369.2 242.2 370.3 242 371.4 242.2 372.6 242.4 373.7 242.5 374.8 242.1 376 242.9 377.1 242.3 378.2 240.7 379.3 243.4 380.5 242.4 381.6 242.2 382.7 242.8 383.9 242.8 385 242.6 386.1 242.1 387.2 242.7 388.4 241.6 389.5 243.4 390.6 241.8 391.7 242.4 392.9 242.5 394 242.6 395.1 242.3 396.3 242.7 397.4 240.2 398.5 242.2 399.6 242.1 400.8 241.8 401.9 242.9 403 241.4 404.1 241.8 405.3 240.5 406.4 242.3 407.5 241.4 408.7 241.2 409.8 242.6 410.9 241.8 412 241.3 413.2 241.1 414.3 240.2 415.4 240.1 416.5 240.4 417.7 239 418.8 239.6 419.9 238.4 421.1 238.8 422.2 237.9 423.3 238.6 424.4 237.9 425.6 236.9 426.7 235.9 427.8 235.8 429 235.7 430.1 234.8 431.2 234.8 432.3 234.5 433.5 233.5 434.6 232.7 435.7 232.5 436.8 231.3 438 230.9 439.1 229.5 440.2 229.3 441.4 227.5 442.5 226.1 443.6 225.6 444.7 224.4 445.9 223.4 447 223 448.1 222.7 449.2 220.9 450.4 221.3 451.5 220.7 452.6 220.3 453.8 220.2 454.9 219.1 456 219.6 457.1 219.1 458.3 219.2 459.4 219.2 460.5 219.3 461.6 219.6 462.8 220.4 463.9 221.6 465 221.9 466.2 222.5 467.3 223.2 468.4 223.6 469.5 224.9 470.7 226.4 471.8 225.9 472.9 227.5 474.1 228.4 475.2 228.8 476.3 229.7 477.4 230.5 478.6 231.3 479.7 231.2 480.8 231.6 481.9 231.1 483.1 231.3 484.2 230.9 485.3 230.7 486.5 230 487.6 229.9 488.7 229.7 489.8 228.3 491 227.7 492.1 227.1 493.2 226 494.3 225.5 495.5 224.3 496.6 222.9 497.7 222.1 498.9 222 500 221.2 501.1 220.6 502.2 219.5 503.4 218.6 504.5 216.9 505.6 216.7 506.7 213.9 507.9 212.1 509 207.7 510.1 203.1 511.3 197.1 512.4 189 513.5 179.4 514.6 169.1 515.8 157 516.9 144.3 518 131.6 519.1 119.9 520.3 110.4 521.4 103.1 522.5 98.8 523.7 97.6 524.8 98.3 525.9 101.4 527 106.2 528.2 112.4 529.3 117.4 530.4 122.3 531.6 126.5 532.7 130.2 533.8 133.2 534.9 136.9 536.1 140.7 537.2 144.1 538.3 151.4 539.4 160.1 540.6 167 541.7 176.9 542.8 186.7 544 195.3 545.1 203.9 546.2 209.8 547.3 215.3 548.5 219.9 549.6 222.6 550.7 224.3 551.8 225.9 553 225.6 554.1 224.3 555.2 221.4 556.4 217.3 557.5 210.7 558.6 201.8 559.7 191.4 560.9 178.5 562 163.8 563.1 148.4 564.2 131.7 565.4 116.4 566.5 101.6 567.6 89.6 568.8 79 569.9 72.1 571 67.2 572.1 64.5 573.3 64.7 574.4 67.6 575.5 70.9 576.7 75.3 577.8 79.5 578.9 84.6 580 88.8 581.2 93.3 582.3 97.9 583.4 102.7 584.5 108.5 585.7 116.8 586.8 125.5 587.9 135.8 589.1 147.8 590.2 159.5 591.3 172.7 592.4 184.7 593.6 196.8 594.7 207.7 595.8 217.7 596.9 225.5 598.1 233.6 599.2 239 600.3 243.2 601.5 247.4 602.6 249.9 603.7 252.2 604.8 253.3 606 254.1 607.1 253.9 608.2 255.6 609.4 255.8 610.5 255.7 611.6 255.7 612.7 256.1 613.9 255.1 615 256.1 616.1 255.7 617.2 255.1 618.4 255.9 619.5 255.9 620.6 256.7 621.8 256.3 622.9 254.8 624 254.5 625.1 255.7 626.3 255.6 627.4 255.2 628.5 254.9 629.6 255.6 630.8 255.1 631.9 255.4 633 256.3 634.2 255.9 635.3 255.3 636.4 255.1 637.5 255.7 638.7 256.8 639.8 255.5 640.9 256.9 642 255.3 643.2 255.7 644.3 256.2 645.4 255.4 646.6 255.9 647.7 255 648.8 256.2 649.9 256.5 651.1 255.5 652.2 256 653.3 255.6 654.5 254.6 655.6 257.5 656.7 256.2 657.8 256.4 659 256.1 660.1 256 661.2 257.3 662.3 254.8 663.5 255.7 664.6 255.6 665.7 255.8 666.9 256.3 668 255.5 669.1 255.1 670.2 255.2 671.4 256.2 672.5 256.5 673.6 256.4 674.7 256.9 675.9 255.6 677 256.5" stroke="#000" stroke-width="1.1" fill="none"/>
<rect x="361.3" y="2.2" width="315.7" height="281.6" fill="none" stroke="#222" stroke-width="1.3"/>
<path d="M361.3 283.8v5.8" stroke="#222" stroke-width="1.3"/>
<path d="M383.9 283.8v3" stroke="#222" stroke-width="1.3"/>
<path d="M406.4 283.8v5.8" stroke="#222" stroke-width="1.3"/>
<path d="M429 283.8v3" stroke="#222" stroke-width="1.3"/>
<path d="M451.5 283.8v5.8" stroke="#222" stroke-width="1.3"/>
<path d="M474.1 283.8v3" stroke="#222" stroke-width="1.3"/>
<path d="M496.6 283.8v5.8" stroke="#222" stroke-width="1.3"/>
<path d="M519.1 283.8v3" stroke="#222" stroke-width="1.3"/>
<path d="M541.7 283.8v5.8" stroke="#222" stroke-width="1.3"/>
<path d="M564.2 283.8v3" stroke="#222" stroke-width="1.3"/>
<path d="M586.8 283.8v5.8" stroke="#222" stroke-width="1.3"/>
<path d="M609.4 283.8v3" stroke="#222" stroke-width="1.3"/>
<path d="M631.9 283.8v5.8" stroke="#222" stroke-width="1.3"/>
<path d="M654.5 283.8v3" stroke="#222" stroke-width="1.3"/>
<path d="M677 283.8v5.8" stroke="#222" stroke-width="1.3"/>
<text x="360.5" y="303" font-size="12" text-anchor="middle">42</text>
<text x="405.6" y="303" font-size="12" text-anchor="middle">40</text>
<text x="450.7" y="303" font-size="12" text-anchor="middle">38</text>
<text x="495.8" y="303" font-size="12" text-anchor="middle">36</text>
<text x="540.9" y="303" font-size="12" text-anchor="middle">34</text>
<text x="586" y="303" font-size="12" text-anchor="middle">32</text>
<text x="631.1" y="303" font-size="12" text-anchor="middle">30</text>
<text x="676.2" y="303" font-size="12" text-anchor="middle">28</text>
<text x="521.5" y="321.2" font-size="14.05" text-anchor="middle">Binding Energy (eV)</text>
<rect x="343" y="291.8" width="13.8" height="14" fill="#fff"/>
<text x="369.7" y="26.9" font-size="19.5" font-weight="bold" textLength="146.3" lengthAdjust="spacingAndGlyphs">(d) 100 mJ, 10 s</text>
<path d="M506.8 72V283.8" stroke="#777" stroke-width="0.9" stroke-dasharray="1 1.6"/>
<path d="M570.6 34.8V283.8" stroke="#777" stroke-width="0.9" stroke-dasharray="1 1.6"/>
<path d="M584.2 63.3V283.8" stroke="#777" stroke-width="0.9" stroke-dasharray="1 1.6"/>
<text x="563.6" y="26.1" font-size="14.8">W</text><text x="577.8" y="18.9" font-size="8.4">4+</text><text x="592.8" y="26.1" font-size="14.8">(2H)</text>
<text x="580.5" y="55.9" font-size="14.8">W</text><text x="594.7" y="48.7" font-size="8.4">4+</text><text x="609.7" y="55.9" font-size="14.8">(1T)</text>
<text x="500.6" y="63.3" font-size="14.8">W</text><text x="514.9" y="55" font-size="7.6">6+</text>
<text x="398.9" y="202.9" font-size="14.6">W 5p</text>
<text x="433.5" y="209.2" font-size="9">3/2</text>
<path d="M418.9 209.4L436.6 233.5" stroke="#111" stroke-width="1.1"/>
<path d="M440.4 238.7L433 233.6L437.8 230.1Z" fill="#111"/>
<path d="M411.7 568.8 412.4 568.8 413.2 568.7 413.9 568.6 414.7 568.6 415.4 568.5 416.2 568.4 416.9 568.3 417.7 568.2 418.4 568.1 419.2 568 419.9 567.8 420.7 567.7 421.4 567.5 422.2 567.3 422.9 567.2 423.7 566.9 424.4 566.7 425.2 566.5 425.9 566.2 426.7 566 427.4 565.7 428.2 565.4 429 565.1 429.7 564.7 430.5 564.4 431.2 564 432 563.7 432.7 563.3 433.5 562.9 434.2 562.5 435 562.1 435.7 561.7 436.5 561.3 437.2 560.8 438 560.4 438.7 560 439.5 559.6 440.2 559.2 441 558.9 441.7 558.5 442.5 558.2 443.2 557.8 444 557.5 444.7 557.2 445.5 557 446.2 556.8 447 556.6 447.7 556.4 448.5 556.3 449.2 556.2 450 556.1 450.7 556.1 451.5 556.1 452.3 556.2 453 556.2 453.8 556.4 454.5 556.5 455.3 556.7 456 556.9 456.8 557.1 457.5 557.4 458.3 557.7 459 558 459.8 558.4 460.5 558.7 461.3 559.1 462 559.5 462.8 559.9 463.5 560.3 464.3 560.7 465 561.1 465.8 561.5 466.5 561.9 467.3 562.3 468 562.7 468.8 563.1 469.5 563.5 470.3 563.9 471 564.2 471.8 564.6 472.5 564.9 473.3 565.2 474.1 565.6 474.8 565.8 475.6 566.1 476.3 566.4 477.1 566.6 477.8 566.9 478.6 567.1 479.3 567.3 480.1 567.4 480.8 567.6 481.6 567.8 482.3 567.9 483.1 568.1 483.8 568.2 484.6 568.3 485.3 568.4 486.1 568.5 486.8 568.6 487.6 568.7 488.3 568.8 489.1 568.9 489.8 569" stroke="#4adee4" stroke-width="1.1" fill="none"/>
<path d="M460.5 568.8 461.3 568.7 462 568.7 462.8 568.6 463.5 568.5 464.3 568.5 465 568.4 465.8 568.3 466.5 568.1 467.3 568 468 567.8 468.8 567.7 469.5 567.5 470.3 567.3 471 567.1 471.8 566.8 472.5 566.5 473.3 566.3 474.1 565.9 474.8 565.6 475.6 565.2 476.3 564.9 477.1 564.4 477.8 564 478.6 563.6 479.3 563.1 480.1 562.6 480.8 562.1 481.6 561.5 482.3 561 483.1 560.4 483.8 559.9 484.6 559.3 485.3 558.7 486.1 558.2 486.8 557.6 487.6 557.1 488.3 556.5 489.1 556 489.8 555.5 490.6 555 491.3 554.6 492.1 554.2 492.8 553.8 493.6 553.4 494.3 553.1 495.1 552.9 495.8 552.7 496.6 552.5 497.4 552.4 498.1 552.4 498.9 552.4 499.6 552.4 500.4 552.5 501.1 552.7 501.9 552.9 502.6 553.2 503.4 553.5 504.1 553.9 504.9 554.3 505.6 554.8 506.4 555.3 507.1 555.9 507.9 556.4 508.6 557 509.4 557.7 510.1 558.3 510.9 558.9 511.6 559.6 512.4 560.3 513.1 560.9 513.9 561.6 514.6 562.3 515.4 562.9 516.1 563.6 516.9 564.2 517.6 564.8 518.4 565.4 519.1 566 519.9 566.5 520.7 567.1 521.4 567.6 522.2 568.1 522.9 568.5 523.7 569 524.4 569.4 525.2 569.8 525.9 570.2 526.7 570.6 527.4 570.9 528.2 571.2 528.9 571.6 529.7 571.9 530.4 572.1 531.2 572.4 531.9 572.6 532.7 572.9 533.4 573.1 534.2 573.3 534.9 573.5 535.7 573.7 536.4 573.9 537.2 574.1" stroke="#4adee4" stroke-width="1.1" fill="none"/>
<path d="M493.6 569.1 494.3 569.1 495.1 568.9 495.8 568.7 496.6 568.4 497.4 568.1 498.1 567.6 498.9 567 499.6 566.2 500.4 565.3 501.1 564.1 501.9 562.6 502.6 560.9 503.4 558.7 504.1 556.2 504.9 553.3 505.6 549.9 506.4 546 507.1 541.6 507.9 536.7 508.6 531.3 509.4 525.4 510.1 519.1 510.9 512.4 511.6 505.3 512.4 498.1 513.1 490.8 513.9 483.5 514.6 476.4 515.4 469.6 516.1 463.2 516.9 457.5 517.6 452.6 518.4 448.5 519.1 445.4 519.9 443.4 520.7 442.5 521.4 442.8 522.2 444.2 522.9 446.8 523.7 450.4 524.4 454.9 525.2 460.3 525.9 466.5 526.7 473.2 527.4 480.3 528.2 487.7 528.9 495.2 529.7 502.7 530.4 510.1 531.2 517.2 531.9 524 532.7 530.4 533.4 536.4 534.2 541.8 534.9 546.8 535.7 551.2 536.4 555.1 537.2 558.5 537.9 561.5 538.7 564 539.4 566.2 540.2 568 540.9 569.6 541.7 570.8 542.5 571.9 543.2 572.7 544 573.4 544.7 574 545.5 574.5 546.2 574.8 547 575.1 547.7 575.4 548.5 575.6" stroke="#dc3a44" stroke-width="1.1" fill="none"/>
<path d="M542.5 574.8 543.2 574.8 544 574.7 544.7 574.5 545.5 574.2 546.2 573.7 547 573.1 547.7 572.3 548.5 571.3 549.2 569.9 550 568.1 550.7 566 551.5 563.2 552.2 560 553 556 553.7 551.4 554.5 545.9 555.2 539.7 556 532.6 556.7 524.8 557.5 516.1 558.2 506.8 559 496.8 559.7 486.5 560.5 475.8 561.2 465.1 562 454.6 562.7 444.5 563.5 435.1 564.2 426.7 565 419.6 565.8 413.8 566.5 409.7 567.3 407.3 568 406.7 568.8 408 569.5 411.1 570.3 416 571 422.4 571.8 430.1 572.5 439.1 573.3 448.9 574 459.4 574.8 470.2 575.5 481.1 576.3 492 577 502.5 577.8 512.5 578.5 521.9 579.3 530.6 580 538.5 580.8 545.6 581.5 551.8 582.3 557.3 583 562 583.8 565.9 584.5 569.3 585.3 572.1 586 574.4 586.8 576.2 587.6 577.7 588.3 578.9 589.1 579.9 589.8 580.7 590.6 581.3 591.3 581.7 592.1 582.1 592.8 582.4 593.6 582.7" stroke="#dc3a44" stroke-width="1.1" fill="none"/>
<path d="M513.9 570.8 514.6 570.7 515.4 570.7 516.1 570.6 516.9 570.5 517.6 570.3 518.4 570 519.1 569.7 519.9 569.2 520.7 568.7 521.4 568 522.2 567.1 522.9 566.1 523.7 564.9 524.4 563.5 525.2 561.8 525.9 559.9 526.7 557.8 527.4 555.3 528.2 552.6 528.9 549.5 529.7 546.2 530.4 542.5 531.2 538.7 531.9 534.6 532.7 530.3 533.4 525.8 534.2 521.2 534.9 516.7 535.7 512.1 536.4 507.7 537.2 503.4 537.9 499.5 538.7 495.8 539.4 492.6 540.2 489.9 540.9 487.7 541.7 486.1 542.5 485.1 543.2 484.8 544 485.1 544.7 486.1 545.5 487.8 546.2 490 547 492.8 547.7 496.1 548.5 499.8 549.2 503.9 550 508.3 550.7 512.9 551.5 517.6 552.2 522.4 553 527.1 553.7 531.8 554.5 536.4 555.2 540.7 556 544.9 556.7 548.8 557.5 552.4 558.2 555.7 559 558.7 559.7 561.4 560.5 563.9 561.2 566.1 562 568 562.7 569.6 563.5 571.1 564.2 572.3 565 573.4 565.8 574.3 566.5 575.1 567.3 575.8 568 576.3 568.8 576.8 569.5 577.2 570.3 577.6 571 577.9 571.8 578.2 572.5 578.4" stroke="#2a2ac8" stroke-width="1.1" fill="none"/>
<path d="M557.5 576.4 558.2 576.4 559 576.3 559.7 576.2 560.5 576.1 561.2 575.9 562 575.7 562.7 575.4 563.5 575 564.2 574.5 565 573.9 565.8 573.2 566.5 572.3 567.3 571.3 568 570.1 568.8 568.6 569.5 567 570.3 565.1 571 563 571.8 560.6 572.5 557.9 573.3 554.9 574 551.6 574.8 548 575.5 544.1 576.3 539.8 577 535.4 577.8 530.6 578.5 525.7 579.3 520.6 580 515.3 580.8 510 581.5 504.6 582.3 499.3 583 494.2 583.8 489.2 584.5 484.5 585.3 480.1 586 476.2 586.8 472.7 587.6 469.8 588.3 467.5 589.1 465.7 589.8 464.7 590.6 464.3 591.3 464.7 592.1 465.7 592.8 467.4 593.6 469.8 594.3 472.8 595.1 476.3 595.8 480.4 596.6 484.9 597.3 489.7 598.1 494.9 598.8 500.3 599.6 505.8 600.3 511.4 601.1 517 601.8 522.6 602.6 528.1 603.3 533.4 604.1 538.4 604.8 543.3 605.6 547.8 606.3 552.1 607.1 556 607.8 559.7 608.6 563 609.4 566 610.1 568.6 610.9 571 611.6 573.1 612.4 575 613.1 576.6 613.9 578 614.6 579.2 615.4 580.3 616.1 581.1 616.9 581.9 617.6 582.5" stroke="#2a2ac8" stroke-width="1.1" fill="none"/>
<path d="M400.4 568.8 401.1 568.8 401.9 568.7 402.6 568.7 403.4 568.6 404.1 568.6 404.9 568.5 405.6 568.5 406.4 568.4 407.2 568.3 407.9 568.3 408.7 568.2 409.4 568.1 410.2 568 410.9 567.9 411.7 567.8 412.4 567.7 413.2 567.6 413.9 567.5 414.7 567.4 415.4 567.2 416.2 567.1 416.9 567 417.7 566.8 418.4 566.7 419.2 566.5 419.9 566.4 420.7 566.2 421.4 566 422.2 565.9 422.9 565.7 423.7 565.5 424.4 565.3 425.2 565.2 425.9 565 426.7 564.8 427.4 564.6 428.2 564.5 429 564.3 429.7 564.1 430.5 564 431.2 563.8 432 563.7 432.7 563.5 433.5 563.4 434.2 563.3 435 563.1 435.7 563 436.5 562.9 437.2 562.8 438 562.7 438.7 562.7 439.5 562.6 440.2 562.6 441 562.5 441.7 562.5 442.5 562.5 443.2 562.5 444 562.5 444.7 562.5 445.5 562.6 446.2 562.6 447 562.7 447.7 562.8 448.5 562.9 449.2 563 450 563.1 450.7 563.2 451.5 563.3 452.3 563.4 453 563.6 453.8 563.7 454.5 563.9 455.3 564 456 564.2 456.8 564.4 457.5 564.5 458.3 564.7 459 564.9 459.8 565.1 460.5 565.2 461.3 565.4 462 565.6 462.8 565.7 463.5 565.9 464.3 566.1 465 566.2 465.8 566.4 466.5 566.6 467.3 566.7 468 566.9 468.8 567 469.5 567.1 470.3 567.3 471 567.4 471.8 567.5 472.5 567.6 473.3 567.7 474.1 567.8 474.8 567.9 475.6 568 476.3 568.1 477.1 568.2 477.8 568.3 478.6 568.3 479.3 568.4 480.1 568.5 480.8 568.5 481.6 568.6 482.3 568.6 483.1 568.7 483.8 568.8 484.6 568.8 485.3 568.9" stroke="#2f8a35" stroke-width="1.1" fill="none"/>
<path d="M401.1 568.8 401.9 568.8 402.6 568.8 403.4 568.7 404.1 568.7 404.9 568.7 405.6 568.6 406.4 568.6 407.2 568.6 407.9 568.5 408.7 568.5 409.4 568.5 410.2 568.4 410.9 568.4 411.7 568.3 412.4 568.3 413.2 568.2 413.9 568.2 414.7 568.1 415.4 568 416.2 568 416.9 567.9 417.7 567.9 418.4 567.8 419.2 567.7 419.9 567.7 420.7 567.6 421.4 567.5 422.2 567.4 422.9 567.4 423.7 567.3 424.4 567.2 425.2 567.1 425.9 567 426.7 566.9 427.4 566.8 428.2 566.7 429 566.6 429.7 566.6 430.5 566.5 431.2 566.4 432 566.3 432.7 566.2 433.5 566.1 434.2 566 435 565.9 435.7 565.8 436.5 565.7 437.2 565.6 438 565.5 438.7 565.4 439.5 565.3 440.2 565.2 441 565.1 441.7 565 442.5 564.9 443.2 564.8 444 564.7 444.7 564.6 445.5 564.5 446.2 564.4 447 564.4 447.7 564.3 448.5 564.2 449.2 564.1 450 564.1 450.7 564 451.5 564 452.3 563.9 453 563.8 453.8 563.8 454.5 563.8 455.3 563.7 456 563.7 456.8 563.7 457.5 563.6 458.3 563.6 459 563.6 459.8 563.6 460.5 563.6 461.3 563.6 462 563.6 462.8 563.6 463.5 563.6 464.3 563.7 465 563.7 465.8 563.7 466.5 563.8 467.3 563.8 468 563.8 468.8 563.9 469.5 563.9 470.3 564 471 564.1 471.8 564.1 472.5 564.2 473.3 564.3 474.1 564.4 474.8 564.4 475.6 564.5 476.3 564.6 477.1 564.7 477.8 564.8 478.6 564.9 479.3 565 480.1 565.1 480.8 565.2 481.6 565.3 482.3 565.4 483.1 565.5 483.8 565.6 484.6 565.7 485.3 565.8 486.1 565.9 486.8 566.1 487.6 566.2 488.3 566.3 489.1 566.5 489.8 566.6 490.6 566.7 491.3 566.8 492.1 567 492.8 567.1 493.6 567.2 494.3 567.4 495.1 567.5 495.8 567.6 496.6 567.7 497.4 567.9 498.1 568 498.9 568.1 499.6 568.2 500.4 568.3 501.1 568.4 501.9 568.6 502.6 568.7 503.4 568.8 504.1 568.9 504.9 569 505.6 569.2 506.4 569.3 507.1 569.4 507.9 569.5 508.6 569.7 509.4 569.8 510.1 569.9 510.9 570 511.6 570.2 512.4 570.3 513.1 570.4 513.9 570.5 514.6 570.6 515.4 570.8 516.1 570.9 516.9 571 517.6 571.1 518.4 571.2 519.1 571.3 519.9 571.5" stroke="#2f8a35" stroke-width="1.1" fill="none"/>
<path d="M429.3 569.4 430.5 569.4 431.6 569.5 432.7 569.5 433.8 569.5 435 569.5 436.1 569.6 437.2 569.6 438.3 569.6 439.5 569.6 440.6 569.7 441.7 569.7 442.9 569.7 444 569.8 445.1 569.8 446.2 569.8 447.4 569.8 448.5 569.9 449.6 569.9 450.7 569.9 451.9 570 453 570 454.1 570 455.3 570 456.4 570.1 457.5 570.1 458.6 570.1 459.8 570.1 460.9 570.2 462 570.2 463.2 570.2 464.3 570.2 465.4 570.2 466.5 570.3 467.7 570.3 468.8 570.3 469.9 570.3 471 570.3 472.2 570.3 473.3 570.3 474.4 570.3 475.6 570.3 476.7 570.3 477.8 570.3 478.9 570.3 480.1 570.3 481.2 570.3 482.3 570.3 483.4 570.3 484.6 570.3 485.7 570.3 486.8 570.3 488 570.3 489.1 570.3 490.2 570.3 491.3 570.4 492.5 570.4 493.6 570.4 494.7 570.5 495.8 570.5 497 570.5 498.1 570.5 499.2 570.6 500.4 570.6 501.5 570.6 502.6 570.7 503.7 570.7 504.9 570.8 506 570.9 507.1 570.9 508.3 571 509.4 571.1 510.5 571.2 511.6 571.3 512.8 571.4 513.9 571.5 515 571.6 516.1 571.7 517.3 571.8 518.4 571.9" stroke="#dc3a44" stroke-width="1.1" fill="none"/>
<path d="M361.3 569.2 365.8 569.2 370.3 569.2 374.8 569.2 379.3 569.2 383.9 569.2 388.4 569.1 392.9 569.1 397.4 569.1 401.9 569.1 406.4 569.1 410.9 569.1 415.4 569.1 419.9 569.1 424.4 569.1 429 569.1 433.5 569.1 438 569.1 442.5 569.1 447 569.1 451.5 569.1 456 569.1 460.5 569.1 465 569.1 469.5 569.1 474.1 569.1 478.6 569.1 483.1 569.1 487.6 569.2 492.1 569.4 496.6 569.7 501.1 569.9 505.6 570.2 510.1 570.7 514.6 571.2 519.1 571.7 523.7 572.3 528.2 572.9 532.7 573.7 537.2 574.4 541.7 575.1 546.2 575.6 550.7 576.1 555.2 576.6 559.7 577 564.2 577.5 568.8 578.1 573.3 578.9 577.8 579.9 582.3 580.9 586.8 581.9 591.3 582.6 595.8 583.4 600.3 584.1 604.8 584.7 609.4 585.1 613.9 585.1 618.4 585.1 622.9 585.2 627.4 585.2 631.9 585.2 636.4 585.2 640.9 585.3 645.4 585.3 649.9 585.3 654.5 585.3 659 585.3 663.5 585.3 668 585.3 672.5 585.3 677 585.3" stroke="#2f8a35" stroke-width="1.1" fill="none"/>
<path d="M398.9 568.6 399.6 568.5 400.4 568.5 401.1 568.4 401.9 568.3 402.6 568.3 403.4 568.2 404.1 568.1 404.9 568 405.6 567.9 406.4 567.8 407.2 567.7 407.9 567.5 408.7 567.4 409.4 567.2 410.2 567.1 410.9 566.9 411.7 566.7 412.4 566.5 413.2 566.3 413.9 566.1 414.7 565.8 415.4 565.5 416.2 565.3 416.9 565 417.7 564.7 418.4 564.3 419.2 564 419.9 563.6 420.7 563.2 421.4 562.8 422.2 562.4 422.9 562 423.7 561.5 424.4 561 425.2 560.5 425.9 560 426.7 559.5 427.4 558.9 428.2 558.4 429 557.8 429.7 557.2 430.5 556.6 431.2 556 432 555.4 432.7 554.7 433.5 554.1 434.2 553.5 435 552.9 435.7 552.2 436.5 551.6 437.2 551 438 550.4 438.7 549.8 439.5 549.3 440.2 548.8 441 548.2 441.7 547.8 442.5 547.3 443.2 546.9 444 546.5 444.7 546.2 445.5 545.9 446.2 545.6 447 545.4 447.7 545.3 448.5 545.1 449.2 545.1 450 545 450.7 545.1 451.5 545.1 452.3 545.2 453 545.4 453.8 545.6 454.5 545.9 455.3 546.2 456 546.5 456.8 546.8 457.5 547.2 458.3 547.7 459 548.1 459.8 548.6 460.5 549 461.3 549.5 462 550.1 462.8 550.6 463.5 551.1 464.3 551.6 465 552.1 465.8 552.6 466.5 553.1 467.3 553.5 468 554 468.8 554.4 469.5 554.8 470.3 555.1 471 555.5 471.8 555.7 472.5 556 473.3 556.2 474.1 556.4 474.8 556.5 475.6 556.6 476.3 556.7 477.1 556.7 477.8 556.6 478.6 556.5 479.3 556.4 480.1 556.3 480.8 556.1 481.6 555.8 482.3 555.6 483.1 555.3 483.8 555 484.6 554.7 485.3 554.3 486.1 554 486.8 553.6 487.6 553.3 488.3 552.9 489.1 552.6 489.8 552.2 490.6 551.9 491.3 551.5 492.1 551.2 492.8 550.9 493.6 550.6 494.3 550.3 495.1 549.9 495.8 549.6 496.6 549.3 497.4 548.9 498.1 548.4 498.9 547.9 499.6 547.2 500.4 546.4 501.1 545.4 501.9 544.2 502.6 542.7 503.4 540.9 504.1 538.8 504.9 536.3 505.6 533.4 506.4 530 507.1 526.1 507.9 521.8 508.6 516.9 509.4 511.6 510.1 505.9 510.9 499.7 511.6 493.3 512.4 486.7 513.1 479.9 513.9 473.1 514.6 466.5 515.4 460.2 516.1 454.3 516.9 448.9 517.6 444.2 518.4 440.3 519.1 437.3 519.9 435.3 520.7 434.2 521.4 434.2 522.2 435.1 522.9 436.9 523.7 439.5 524.4 442.9 525.2 446.9 525.9 451.3 526.7 455.9 527.4 460.7 528.2 465.5 528.9 470 529.7 474.3 530.4 478.1 531.2 481.4 531.9 484.1 532.7 486.2 533.4 487.6 534.2 488.5 534.9 488.8 535.7 488.6 536.4 488.1 537.2 487.2 537.9 486.1 538.7 484.9 539.4 483.8 540.2 482.7 540.9 481.9 541.7 481.5 542.5 481.3 543.2 481.6 544 482.4 544.7 483.6 545.5 485.2 546.2 487.2 547 489.6 547.7 492.1 548.5 494.8 549.2 497.6 550 500.2 550.7 502.6 551.5 504.5 552.2 506 553 506.7 553.7 506.6 554.5 505.7 555.2 503.7 556 500.7 556.7 496.5 557.5 491.3 558.2 485.1 559 478 559.7 470.1 560.5 461.6 561.2 452.7 562 443.7 562.7 434.8 563.5 426.3 564.2 418.5 565 411.6 565.8 405.9 566.5 401.5 567.3 398.5 568 397.1 568.8 397.2 569.5 398.9 570.3 401.9 571 406.2 571.8 411.6 572.5 417.8 573.3 424.6 574 431.7 574.8 438.8 575.5 445.7 576.3 452.2 577 458.1 577.8 463.2 578.5 467.5 579.3 470.9 580 473.4 580.8 474.9 581.5 475.7 582.3 475.7 583 475 583.8 473.9 584.5 472.4 585.3 470.7 586 468.8 586.8 467.1 587.6 465.5 588.3 464.3 589.1 463.4 589.8 463 590.6 463.1 591.3 463.8 592.1 465.1 592.8 467 593.6 469.5 594.3 472.6 595.1 476.2 595.8 480.3 596.6 484.8 597.3 489.7 598.1 494.9 598.8 500.3 599.6 505.8 600.3 511.4 601.1 517 601.8 522.6 602.6 528.1 603.3 533.4 604.1 538.4 604.8 543.3 605.6 547.8 606.3 552.1 607.1 556 607.8 559.7 608.6 563 609.4 566 610.1 568.6 610.9 571 611.6 573.1 612.4 575 613.1 576.6 613.9 578 614.6 579.2 615.4 580.3 616.1 581.1 616.9 581.9 617.6 582.5" stroke="#000" stroke-width="1.1" fill="none"/>
<path d="M361.3 568.2 362.4 568.3 363.6 569.3 364.7 567.6 365.8 568.8 366.9 567.6 368.1 569.5 369.2 569 370.3 569.6 371.4 568.6 372.6 569.1 373.7 568.7 374.8 568.4 376 568.9 377.1 568.1 378.2 568.6 379.3 569.2 380.5 568.8 381.6 568.6 382.7 570 383.9 568.8 385 568.4 386.1 568.8 387.2 568.5 388.4 568.5 389.5 568.5 390.6 569.8 391.7 568.6 392.9 568.7 394 568.9 395.1 569.6 396.3 568.3 397.4 568 398.5 569.7 399.6 568 400.8 568.3 401.9 568.6 403 569.1 404.1 567.7 405.3 567 406.4 568 407.5 567.4 408.7 567.2 409.8 567.3 410.9 567 412 566.7 413.2 566.1 414.3 566.4 415.4 566.1 416.5 565.1 417.7 564.5 418.8 564.5 419.9 563.8 421.1 562.6 422.2 562.2 423.3 562.2 424.4 561 425.6 560.2 426.7 559.6 427.8 558.6 429 557.8 430.1 556.1 431.2 556.7 432.3 555.2 433.5 553.8 434.6 553.6 435.7 552.4 436.8 551.4 438 551 439.1 550.7 440.2 549.2 441.4 549 442.5 548.7 443.6 546.9 444.7 546.8 445.9 547.1 447 546 448.1 546.6 449.2 547.4 450.4 547.6 451.5 547.8 452.6 547.3 453.8 549.5 454.9 549.4 456 550.1 457.1 550.7 458.3 550.5 459.4 551.2 460.5 551.9 461.6 553.8 462.8 553.2 463.9 553.9 465 554.4 466.2 555.2 467.3 555.6 468.4 555.8 469.5 555.5 470.7 555.1 471.8 556.6 472.9 556.8 474.1 557.4 475.2 556.9 476.3 556.7 477.4 557 478.6 556 479.7 556 480.8 555.7 481.9 555.9 483.1 556.2 484.2 555.2 485.3 554.8 486.5 553.9 487.6 553.4 488.7 552.6 489.8 552.1 491 550.7 492.1 550.7 493.2 550.2 494.3 550.6 495.5 550 496.6 549.7 497.7 549.3 498.9 547.7 500 547.2 501.1 546.2 502.2 543.5 503.4 541.4 504.5 537.6 505.6 532.7 506.7 528.2 507.9 521.5 509 514.5 510.1 505.8 511.3 497 512.4 486.3 513.5 478.1 514.6 468.2 515.8 458.6 516.9 450.5 518 444.6 519.1 440.4 520.3 437.8 521.4 437.3 522.5 438 523.7 441.7 524.8 447.8 525.9 453.6 527 460 528.2 467.8 529.3 474.9 530.4 481.7 531.6 487.8 532.7 490.8 533.8 493.1 534.9 492.9 536.1 491.1 537.2 489.6 538.3 488.6 539.4 485.5 540.6 483.9 541.7 484 542.8 483.5 544 484.4 545.1 486.8 546.2 488.1 547.3 492.3 548.5 495.4 549.6 499.1 550.7 502.7 551.8 506.1 553 506.9 554.1 505.7 555.2 503.4 556.4 499.6 557.5 492.2 558.6 481.9 559.7 472.2 560.9 458.7 562 445.6 563.1 433.6 564.2 422.9 565.4 414 566.5 407.1 567.6 402.9 568.8 402.4 569.9 404.6 571 410.5 572.1 417.9 573.3 427.4 574.4 436.8 575.5 447 576.7 456 577.8 463.8 578.9 470 580 474.5 581.2 477 582.3 478.6 583.4 478.1 584.5 476.3 585.7 475.4 586.8 473.6 587.9 472.6 589.1 471 590.2 470.8 591.3 471.4 592.4 473.6 593.6 476.7 594.7 480.5 595.8 485.4 596.9 491.7 598.1 498.2 599.2 505.6 600.3 512.9 601.5 521.2 602.6 528.5 603.7 536.1 604.8 543.7 606 551.1 607.1 556.6 608.2 561.4 609.4 565.9 610.5 570.3 611.6 573.7 612.7 576.3 613.9 577.9 615 579.8 616.1 581 617.2 582.1 618.4 582.5 619.5 583.5 620.6 582.9 621.8 583.7 622.9 584.9 624 584.3 625.1 585.3 626.3 584.3 627.4 584.9 628.5 585.4 629.6 584.6 630.8 584.8 631.9 586.6 633 584.8 634.2 584.8 635.3 584.9 636.4 585.3 637.5 585.2 638.7 585.8 639.8 585.7 640.9 585 642 585.1 643.2 584.5 644.3 584.4 645.4 584.8 646.6 585.7 647.7 585.3 648.8 585.7 649.9 585.8 651.1 585.2 652.2 586.5 653.3 585 654.5 584.9 655.6 585 656.7 585.9 657.8 585.2 659 584.9 660.1 585.5 661.2 585.9 662.3 585.2 663.5 585.2 664.6 585.9 665.7 585.8 666.9 585.8 668 584.9 669.1 585.5 670.2 585.5 671.4 584.3 672.5 586 673.6 585.4 674.7 585.1 675.9 586.6 677 585.4" stroke="#000" stroke-width="1.1" fill="none"/>
<rect x="361.3" y="331" width="315.7" height="282" fill="none" stroke="#222" stroke-width="1.3"/>
<path d="M361.3 613v5.8" stroke="#222" stroke-width="1.3"/>
<path d="M383.9 613v3" stroke="#222" stroke-width="1.3"/>
<path d="M406.4 613v5.8" stroke="#222" stroke-width="1.3"/>
<path d="M429 613v3" stroke="#222" stroke-width="1.3"/>
<path d="M451.5 613v5.8" stroke="#222" stroke-width="1.3"/>
<path d="M474.1 613v3" stroke="#222" stroke-width="1.3"/>
<path d="M496.6 613v5.8" stroke="#222" stroke-width="1.3"/>
<path d="M519.1 613v3" stroke="#222" stroke-width="1.3"/>
<path d="M541.7 613v5.8" stroke="#222" stroke-width="1.3"/>
<path d="M564.2 613v3" stroke="#222" stroke-width="1.3"/>
<path d="M586.8 613v5.8" stroke="#222" stroke-width="1.3"/>
<path d="M609.4 613v3" stroke="#222" stroke-width="1.3"/>
<path d="M631.9 613v5.8" stroke="#222" stroke-width="1.3"/>
<path d="M654.5 613v3" stroke="#222" stroke-width="1.3"/>
<path d="M677 613v5.8" stroke="#222" stroke-width="1.3"/>
<text x="360.5" y="632.2" font-size="12" text-anchor="middle">42</text>
<text x="405.6" y="632.2" font-size="12" text-anchor="middle">40</text>
<text x="450.7" y="632.2" font-size="12" text-anchor="middle">38</text>
<text x="495.8" y="632.2" font-size="12" text-anchor="middle">36</text>
<text x="540.9" y="632.2" font-size="12" text-anchor="middle">34</text>
<text x="586" y="632.2" font-size="12" text-anchor="middle">32</text>
<text x="631.1" y="632.2" font-size="12" text-anchor="middle">30</text>
<text x="676.2" y="632.2" font-size="12" text-anchor="middle">28</text>
<text x="521.5" y="650.4" font-size="14.05" text-anchor="middle">Binding Energy (eV)</text>
<rect x="343" y="621" width="13.8" height="14" fill="#fff"/>
<text x="370.7" y="357.7" font-size="19.5" font-weight="bold" textLength="140.1" lengthAdjust="spacingAndGlyphs">(e) 100 mJ, 20s</text>
<path d="M499.1 400.8V613" stroke="#777" stroke-width="0.9" stroke-dasharray="1 1.6"/>
<path d="M568.6 364.3V613" stroke="#777" stroke-width="0.9" stroke-dasharray="1 1.6"/>
<path d="M590.4 392.6V613" stroke="#777" stroke-width="0.9" stroke-dasharray="1 1.6"/>
<text x="563.6" y="354.4" font-size="14.8">W</text><text x="577.8" y="347.2" font-size="8.4">4+</text><text x="592.8" y="354.4" font-size="14.8">(2H)</text>
<text x="585" y="383.4" font-size="14.8">W</text><text x="599.2" y="376.2" font-size="8.4">4+</text><text x="614.2" y="383.4" font-size="14.8">(1T)</text>
<text x="495.4" y="391.6" font-size="14.8">W</text><text x="509.7" y="383.3" font-size="7.6">6+</text>
<text x="400.7" y="497.9" font-size="14.6">W 5p</text>
<text x="435.3" y="504.2" font-size="9">3/2</text>
<path d="M417.7 506.1L437.5 555.8" stroke="#111" stroke-width="1.1"/>
<path d="M439.9 561.8L434 555L439.5 552.8Z" fill="#111"/>
<path d="M398.9 897.4 399.6 897.4 400.4 897.3 401.1 897.3 401.9 897.2 402.6 897.1 403.4 897 404.1 896.9 404.9 896.8 405.6 896.7 406.4 896.6 407.2 896.4 407.9 896.3 408.7 896.1 409.4 896 410.2 895.8 410.9 895.6 411.7 895.4 412.4 895.2 413.2 895 413.9 894.7 414.7 894.5 415.4 894.2 416.2 893.9 416.9 893.6 417.7 893.3 418.4 892.9 419.2 892.6 419.9 892.2 420.7 891.8 421.4 891.4 422.2 891 422.9 890.6 423.7 890.1 424.4 889.7 425.2 889.2 425.9 888.7 426.7 888.2 427.4 887.7 428.2 887.2 429 886.7 429.7 886.2 430.5 885.7 431.2 885.2 432 884.7 432.7 884.2 433.5 883.7 434.2 883.2 435 882.7 435.7 882.2 436.5 881.7 437.2 881.3 438 880.9 438.7 880.4 439.5 880 440.2 879.7 441 879.3 441.7 879 442.5 878.7 443.2 878.4 444 878.2 444.7 878 445.5 877.8 446.2 877.6 447 877.5 447.7 877.5 448.5 877.4 449.2 877.4 450 877.4 450.7 877.5 451.5 877.6 452.3 877.7 453 877.9 453.8 878.1 454.5 878.3 455.3 878.6 456 878.9 456.8 879.2 457.5 879.5 458.3 879.9 459 880.3 459.8 880.7 460.5 881.1 461.3 881.6 462 882 462.8 882.5 463.5 883 464.3 883.5 465 884 465.8 884.5 466.5 885 467.3 885.5 468 886 468.8 886.5 469.5 887 470.3 887.6 471 888 471.8 888.5 472.5 889 473.3 889.5 474.1 890 474.8 890.4 475.6 890.9 476.3 891.3 477.1 891.7 477.8 892.1 478.6 892.5 479.3 892.9 480.1 893.2 480.8 893.6 481.6 893.9 482.3 894.2 483.1 894.5 483.8 894.8 484.6 895.1 485.3 895.3 486.1 895.6 486.8 895.8 487.6 896 488.3 896.2 489.1 896.4 489.8 896.6 490.6 896.8 491.3 896.9 492.1 897.1 492.8 897.2 493.6 897.4 494.3 897.5 495.1 897.6 495.8 897.7 496.6 897.8 497.4 897.9 498.1 898 498.9 898.1 499.6 898.2 500.4 898.3 501.1 898.3 501.9 898.4" stroke="#4adee4" stroke-width="1.1" fill="none"/>
<path d="M462 897.6 462.8 897.5 463.5 897.4 464.3 897.3 465 897.2 465.8 897.1 466.5 897 467.3 896.8 468 896.6 468.8 896.4 469.5 896.2 470.3 896 471 895.7 471.8 895.4 472.5 895 473.3 894.7 474.1 894.3 474.8 893.8 475.6 893.3 476.3 892.8 477.1 892.2 477.8 891.6 478.6 891 479.3 890.3 480.1 889.5 480.8 888.8 481.6 888 482.3 887.1 483.1 886.3 483.8 885.4 484.6 884.5 485.3 883.5 486.1 882.6 486.8 881.7 487.6 880.7 488.3 879.8 489.1 878.9 489.8 878 490.6 877.2 491.3 876.4 492.1 875.6 492.8 874.9 493.6 874.3 494.3 873.8 495.1 873.3 495.8 872.9 496.6 872.6 497.4 872.3 498.1 872.2 498.9 872.2 499.6 872.2 500.4 872.4 501.1 872.7 501.9 873 502.6 873.4 503.4 874 504.1 874.6 504.9 875.3 505.6 876 506.4 876.9 507.1 877.7 507.9 878.6 508.6 879.6 509.4 880.6 510.1 881.6 510.9 882.7 511.6 883.7 512.4 884.7 513.1 885.8 513.9 886.8 514.6 887.8 515.4 888.8 516.1 889.7 516.9 890.7 517.6 891.6 518.4 892.4 519.1 893.2 519.9 894 520.7 894.7 521.4 895.4 522.2 896.1 522.9 896.7 523.7 897.3 524.4 897.8 525.2 898.3 525.9 898.8 526.7 899.3 527.4 899.7 528.2 900.1 528.9 900.5 529.7 900.8 530.4 901.1 531.2 901.5 531.9 901.7 532.7 902 533.4 902.3 534.2 902.5 534.9 902.7 535.7 903 536.4 903.2" stroke="#4adee4" stroke-width="1.1" fill="none"/>
<path d="M498.1 898.2 498.9 898.1 499.6 898 500.4 897.7 501.1 897.4 501.9 897 502.6 896.4 503.4 895.6 504.1 894.6 504.9 893.3 505.6 891.7 506.4 889.6 507.1 887.1 507.9 884 508.6 880.4 509.4 876.1 510.1 871.2 510.9 865.5 511.6 859.2 512.4 852.2 513.1 844.6 513.9 836.5 514.6 828 515.4 819.3 516.1 810.5 516.9 802 517.6 793.8 518.4 786.3 519.1 779.7 519.9 774.1 520.7 769.8 521.4 766.8 522.2 765.4 522.9 765.6 523.7 767.3 524.4 770.5 525.2 775.2 525.9 781 526.7 788 527.4 795.7 528.2 804.2 528.9 813 529.7 821.9 530.4 830.9 531.2 839.6 531.9 847.9 532.7 855.7 533.4 862.9 534.2 869.4 534.9 875.2 535.7 880.4 536.4 884.8 537.2 888.7 537.9 891.9 538.7 894.6 539.4 896.8 540.2 898.7 540.9 900.1 541.7 901.3 542.5 902.2 543.2 903 544 903.6 544.7 904 545.5 904.4 546.2 904.7" stroke="#dc3a44" stroke-width="1.1" fill="none"/>
<path d="M544 904.5 544.7 904.4 545.5 904.3 546.2 904.1 547 903.9 547.7 903.4 548.5 902.8 549.2 902 550 901 550.7 899.6 551.5 897.8 552.2 895.6 553 892.9 553.7 889.5 554.5 885.5 555.2 880.8 556 875.2 556.7 868.8 557.5 861.5 558.2 853.3 559 844.3 559.7 834.6 560.5 824.2 561.2 813.3 562 802.1 562.7 790.8 563.5 779.6 564.2 768.9 565 758.9 565.8 749.8 566.5 742.1 567.3 735.8 568 731.2 568.8 728.4 569.5 727.6 570.3 728.7 571 731.8 571.8 736.8 572.5 743.4 573.3 751.5 574 760.9 574.8 771.2 575.5 782.3 576.3 793.8 577 805.4 577.8 817 578.5 828.2 579.3 838.9 580 848.9 580.8 858.2 581.5 866.7 582.3 874.3 583 881 583.8 886.8 584.5 891.8 585.3 896.1 586 899.7 586.8 902.7 587.6 905.2 588.3 907.2 589.1 908.8 589.8 910 590.6 911 591.3 911.8 592.1 912.4 592.8 912.9 593.6 913.3 594.3 913.6 595.1 913.9" stroke="#dc3a44" stroke-width="1.1" fill="none"/>
<path d="M512.4 899.4 513.1 899.3 513.9 899.3 514.6 899.2 515.4 899.1 516.1 899 516.9 898.7 517.6 898.4 518.4 898.1 519.1 897.6 519.9 897 520.7 896.3 521.4 895.4 522.2 894.3 522.9 893.1 523.7 891.7 524.4 890 525.2 888.1 525.9 886 526.7 883.6 527.4 881 528.2 878 528.9 874.9 529.7 871.4 530.4 867.8 531.2 864 531.9 860 532.7 855.8 533.4 851.6 534.2 847.4 534.9 843.3 535.7 839.2 536.4 835.4 537.2 831.8 537.9 828.5 538.7 825.6 539.4 823.1 540.2 821.1 540.9 819.7 541.7 818.8 542.5 818.5 543.2 818.8 544 819.7 544.7 821.1 545.5 823.1 546.2 825.7 547 828.6 547.7 832 548.5 835.7 549.2 839.7 550 843.9 550.7 848.3 551.5 852.7 552.2 857.1 553 861.5 553.7 865.8 554.5 869.9 555.2 873.8 556 877.6 556.7 881 557.5 884.3 558.2 887.2 559 889.9 559.7 892.4 560.5 894.5 561.2 896.5 562 898.2 562.7 899.7 563.5 901 564.2 902.1 565 903.1 565.8 903.9 566.5 904.7 567.3 905.3 568 905.8 568.8 906.3 569.5 906.7 570.3 907.1 571 907.4 571.8 907.8 572.5 908.1" stroke="#2a2ac8" stroke-width="1.1" fill="none"/>
<path d="M556 905.8 556.7 905.7 557.5 905.7 558.2 905.6 559 905.5 559.7 905.3 560.5 905.1 561.2 904.9 562 904.5 562.7 904.1 563.5 903.6 564.2 903 565 902.2 565.8 901.3 566.5 900.3 567.3 899.1 568 897.6 568.8 896 569.5 894.2 570.3 892.1 571 889.8 571.8 887.2 572.5 884.3 573.3 881.1 574 877.7 574.8 874 575.5 870 576.3 865.8 577 861.3 577.8 856.7 578.5 851.9 579.3 847 580 842 580.8 837 581.5 832 582.3 827.2 583 822.5 583.8 818.1 584.5 814 585.3 810.3 586 807 586.8 804.2 587.6 801.9 588.3 800.2 589.1 799.1 589.8 798.7 590.6 798.8 591.3 799.7 592.1 801.1 592.8 803.2 593.6 805.9 594.3 809.1 595.1 812.7 595.8 816.9 596.6 821.4 597.3 826.1 598.1 831.2 598.8 836.4 599.6 841.7 600.3 847 601.1 852.3 601.8 857.6 602.6 862.7 603.3 867.6 604.1 872.4 604.8 876.8 605.6 881.1 606.3 885 607.1 888.6 607.8 892 608.6 895 609.4 897.8 610.1 900.3 610.9 902.5 611.6 904.4 612.4 906.1 613.1 907.6 613.9 908.9 614.6 910.1 615.4 911 616.1 911.9 616.9 912.5" stroke="#2a2ac8" stroke-width="1.1" fill="none"/>
<path d="M401.9 897.6 402.6 897.5 403.4 897.5 404.1 897.4 404.9 897.4 405.6 897.3 406.4 897.3 407.2 897.2 407.9 897.2 408.7 897.1 409.4 897 410.2 896.9 410.9 896.9 411.7 896.8 412.4 896.7 413.2 896.6 413.9 896.5 414.7 896.3 415.4 896.2 416.2 896.1 416.9 896 417.7 895.8 418.4 895.7 419.2 895.5 419.9 895.4 420.7 895.2 421.4 895.1 422.2 894.9 422.9 894.7 423.7 894.6 424.4 894.4 425.2 894.2 425.9 894 426.7 893.9 427.4 893.7 428.2 893.5 429 893.3 429.7 893.1 430.5 893 431.2 892.8 432 892.6 432.7 892.5 433.5 892.3 434.2 892.2 435 892 435.7 891.9 436.5 891.8 437.2 891.6 438 891.5 438.7 891.4 439.5 891.4 440.2 891.3 441 891.2 441.7 891.2 442.5 891.1 443.2 891.1 444 891.1 444.7 891.1 445.5 891.1 446.2 891.1 447 891.2 447.7 891.2 448.5 891.3 449.2 891.4 450 891.5 450.7 891.6 451.5 891.7 452.3 891.8 453 891.9 453.8 892.1 454.5 892.2 455.3 892.3 456 892.5 456.8 892.7 457.5 892.8 458.3 893 459 893.2 459.8 893.4 460.5 893.5 461.3 893.7 462 893.9 462.8 894.1 463.5 894.3 464.3 894.4 465 894.6 465.8 894.8 466.5 894.9 467.3 895.1 468 895.3 468.8 895.4 469.5 895.6 470.3 895.7 471 895.9 471.8 896 472.5 896.1 473.3 896.3 474.1 896.4 474.8 896.5 475.6 896.6 476.3 896.7 477.1 896.8 477.8 896.9 478.6 897 479.3 897.1 480.1 897.2 480.8 897.3 481.6 897.4 482.3 897.5 483.1 897.5 483.8 897.6 484.6 897.7 485.3 897.7 486.1 897.8 486.8 897.8" stroke="#2f8a35" stroke-width="1.1" fill="none"/>
<path d="M404.1 897.6 404.9 897.6 405.6 897.5 406.4 897.5 407.2 897.5 407.9 897.5 408.7 897.4 409.4 897.4 410.2 897.4 410.9 897.4 411.7 897.3 412.4 897.3 413.2 897.2 413.9 897.2 414.7 897.2 415.4 897.1 416.2 897.1 416.9 897 417.7 897 418.4 896.9 419.2 896.9 419.9 896.8 420.7 896.8 421.4 896.7 422.2 896.7 422.9 896.6 423.7 896.6 424.4 896.5 425.2 896.4 425.9 896.4 426.7 896.3 427.4 896.2 428.2 896.2 429 896.1 429.7 896 430.5 896 431.2 895.9 432 895.8 432.7 895.8 433.5 895.7 434.2 895.6 435 895.5 435.7 895.5 436.5 895.4 437.2 895.3 438 895.2 438.7 895.2 439.5 895.1 440.2 895 441 895 441.7 894.9 442.5 894.8 443.2 894.8 444 894.7 444.7 894.6 445.5 894.6 446.2 894.5 447 894.4 447.7 894.4 448.5 894.3 449.2 894.3 450 894.2 450.7 894.2 451.5 894.2 452.3 894.1 453 894.1 453.8 894 454.5 894 455.3 894 456 894 456.8 893.9 457.5 893.9 458.3 893.9 459 893.9 459.8 893.9 460.5 893.9 461.3 893.9 462 893.9 462.8 893.9 463.5 893.9 464.3 893.9 465 894 465.8 894 466.5 894 467.3 894 468 894.1 468.8 894.1 469.5 894.2 470.3 894.2 471 894.2 471.8 894.3 472.5 894.3 473.3 894.4 474.1 894.5 474.8 894.5 475.6 894.6 476.3 894.7 477.1 894.7 477.8 894.8 478.6 894.9 479.3 895 480.1 895.1 480.8 895.1 481.6 895.2 482.3 895.3 483.1 895.4 483.8 895.5 484.6 895.6 485.3 895.7 486.1 895.8 486.8 895.9 487.6 896 488.3 896.1 489.1 896.2 489.8 896.3 490.6 896.3 491.3 896.4 492.1 896.5 492.8 896.6 493.6 896.7 494.3 896.8 495.1 896.9 495.8 897 496.6 897.1 497.4 897.2 498.1 897.3 498.9 897.4 499.6 897.4 500.4 897.5 501.1 897.6 501.9 897.7 502.6 897.8 503.4 897.9 504.1 898 504.9 898.1 505.6 898.2 506.4 898.3 507.1 898.4 507.9 898.5 508.6 898.6 509.4 898.8 510.1 898.9 510.9 899 511.6 899.1 512.4 899.2 513.1 899.3 513.9 899.4 514.6 899.6 515.4 899.7 516.1 899.8 516.9 899.9" stroke="#2f8a35" stroke-width="1.1" fill="none"/>
<path d="M429.3 898.2 430.5 898.2 431.6 898.3 432.7 898.3 433.8 898.3 435 898.3 436.1 898.3 437.2 898.4 438.3 898.4 439.5 898.4 440.6 898.5 441.7 898.5 442.9 898.5 444 898.5 445.1 898.6 446.2 898.6 447.4 898.6 448.5 898.7 449.6 898.7 450.7 898.7 451.9 898.8 453 898.8 454.1 898.8 455.3 898.8 456.4 898.9 457.5 898.9 458.6 898.9 459.8 898.9 460.9 899 462 899 463.2 899 464.3 899 465.4 899 466.5 899.1 467.7 899.1 468.8 899.1 469.9 899.1 471 899.1 472.2 899.1 473.3 899.1 474.4 899.1 475.6 899.1 476.7 899.1 477.8 899.2 478.9 899.2 480.1 899.2 481.2 899.2 482.3 899.2 483.4 899.2 484.6 899.2 485.7 899.2 486.8 899.2 488 899.2 489.1 899.3 490.2 899.3 491.3 899.3 492.5 899.3 493.6 899.3 494.7 899.3 495.8 899.3 497 899.3 498.1 899.4 499.2 899.4 500.4 899.4 501.5 899.4 502.6 899.5 503.7 899.5 504.9 899.6 506 899.6 507.1 899.7 508.3 899.8 509.4 899.9 510.5 899.9 511.6 900 512.8 900.1 513.9 900.2 515 900.4 516.1 900.5 517.3 900.6 518.4 900.7" stroke="#dc3a44" stroke-width="1.1" fill="none"/>
<path d="M361.3 897.9 365.8 897.9 370.3 897.9 374.8 897.9 379.3 897.9 383.9 897.9 388.4 897.9 392.9 897.9 397.4 897.9 401.9 897.9 406.4 897.9 410.9 897.9 415.4 897.9 419.9 897.9 424.4 897.9 429 897.9 433.5 897.9 438 897.9 442.5 897.9 447 897.9 451.5 897.9 456 897.9 460.5 897.9 465 897.9 469.5 897.9 474.1 897.9 478.6 898 483.1 898.1 487.6 898.2 492.1 898.3 496.6 898.5 501.1 898.7 505.6 899 510.1 899.4 514.6 899.9 519.1 900.5 523.7 901.1 528.2 901.9 532.7 902.7 537.2 903.6 541.7 904.4 546.2 905.1 550.7 905.6 555.2 906 559.7 906.4 564.2 906.9 568.8 907.5 573.3 908.6 577.8 910 582.3 911.5 586.8 912.8 591.3 913.6 595.8 914.3 600.3 914.9 604.8 915.3 609.4 915.6 613.9 915.6 618.4 915.7 622.9 915.7 627.4 915.7 631.9 915.8 636.4 915.8 640.9 915.8 645.4 915.8 649.9 915.9 654.5 915.9 659 915.9 663.5 915.9 668 915.9 672.5 915.9 677 915.9" stroke="#2f8a35" stroke-width="1.1" fill="none"/>
<path d="M398.9 897 399.6 896.9 400.4 896.8 401.1 896.7 401.9 896.6 402.6 896.5 403.4 896.3 404.1 896.2 404.9 896 405.6 895.8 406.4 895.6 407.2 895.4 407.9 895.1 408.7 894.9 409.4 894.6 410.2 894.3 410.9 894 411.7 893.7 412.4 893.3 413.2 893 413.9 892.6 414.7 892.2 415.4 891.7 416.2 891.3 416.9 890.8 417.7 890.3 418.4 889.7 419.2 889.2 419.9 888.6 420.7 888 421.4 887.4 422.2 886.8 422.9 886.1 423.7 885.5 424.4 884.8 425.2 884.1 425.9 883.3 426.7 882.6 427.4 881.9 428.2 881.1 429 880.4 429.7 879.6 430.5 878.9 431.2 878.1 432 877.4 432.7 876.6 433.5 875.9 434.2 875.2 435 874.5 435.7 873.8 436.5 873.1 437.2 872.5 438 871.8 438.7 871.3 439.5 870.7 440.2 870.2 441 869.7 441.7 869.2 442.5 868.8 443.2 868.5 444 868.2 444.7 867.9 445.5 867.7 446.2 867.5 447 867.4 447.7 867.3 448.5 867.2 449.2 867.3 450 867.3 450.7 867.4 451.5 867.6 452.3 867.8 453 868 453.8 868.3 454.5 868.7 455.3 869 456 869.5 456.8 869.9 457.5 870.4 458.3 870.9 459 871.4 459.8 871.9 460.5 872.5 461.3 873.1 462 873.7 462.8 874.3 463.5 874.9 464.3 875.5 465 876.1 465.8 876.7 466.5 877.2 467.3 877.8 468 878.3 468.8 878.8 469.5 879.3 470.3 879.7 471 880.1 471.8 880.5 472.5 880.8 473.3 881.1 474.1 881.3 474.8 881.5 475.6 881.6 476.3 881.7 477.1 881.6 477.8 881.6 478.6 881.5 479.3 881.3 480.1 881 480.8 880.7 481.6 880.4 482.3 880 483.1 879.5 483.8 879 484.6 878.5 485.3 877.9 486.1 877.3 486.8 876.7 487.6 876.1 488.3 875.4 489.1 874.8 489.8 874.2 490.6 873.6 491.3 873 492.1 872.4 492.8 871.9 493.6 871.5 494.3 871.1 495.1 870.8 495.8 870.5 496.6 870.3 497.4 870.1 498.1 870 498.9 870 499.6 870 500.4 870 501.1 870 501.9 869.9 502.6 869.8 503.4 869.6 504.1 869.2 504.9 868.6 505.6 867.7 506.4 866.5 507.1 864.8 507.9 862.7 508.6 859.9 509.4 856.6 510.1 852.6 510.9 847.9 511.6 842.5 512.4 836.4 513.1 829.7 513.9 822.4 514.6 814.8 515.4 806.8 516.1 798.7 516.9 790.7 517.6 783 518.4 775.7 519.1 769.3 519.9 763.7 520.7 759.2 521.4 755.9 522.2 753.9 522.9 753.3 523.7 753.9 524.4 755.8 525.2 758.8 525.9 762.8 526.7 767.6 527.4 772.9 528.2 778.5 528.9 784.2 529.7 789.8 530.4 795.2 531.2 800 531.9 804.3 532.7 808 533.4 811 534.2 813.2 534.9 814.8 535.7 815.9 536.4 816.4 537.2 816.5 537.9 816.3 538.7 816 539.4 815.7 540.2 815.4 540.9 815.3 541.7 815.4 542.5 815.9 543.2 816.8 544 818 544.7 819.7 545.5 821.8 546.2 824.2 547 826.9 547.7 829.9 548.5 833 549.2 836.2 550 839.3 550.7 842.2 551.5 844.8 552.2 846.9 553 848.4 553.7 849.3 554.5 849.3 555.2 848.3 556 846.3 556.7 843.2 557.5 839 558.2 833.6 559 827 559.7 819.4 560.5 810.9 561.2 801.5 562 791.5 562.7 781.1 563.5 770.6 564.2 760.2 565 750.2 565.8 740.9 566.5 732.6 567.3 725.5 568 719.8 568.8 715.6 569.5 713.1 570.3 712.2 571 713 571.8 715.3 572.5 719 573.3 723.8 574 729.6 574.8 736.1 575.5 742.9 576.3 750 577 756.9 577.8 763.6 578.5 769.8 579.3 775.3 580 780.1 580.8 784.2 581.5 787.4 582.3 789.9 583 791.7 583.8 792.9 584.5 793.7 585.3 794 586 794.1 586.8 794.1 587.6 794.1 588.3 794.2 589.1 794.6 589.8 795.3 590.6 796.3 591.3 797.8 592.1 799.8 592.8 802.2 593.6 805.2 594.3 808.6 595.1 812.4 595.8 816.6 596.6 821.2 597.3 826 598.1 831.1 598.8 836.3 599.6 841.7 600.3 847 601.1 852.3 601.8 857.6 602.6 862.7 603.3 867.6 604.1 872.4 604.8 876.8 605.6 881.1 606.3 885 607.1 888.6 607.8 892 608.6 895 609.4 897.8 610.1 900.3 610.9 902.5 611.6 904.4 612.4 906.1 613.1 907.6 613.9 908.9 614.6 910.1 615.4 911 616.1 911.9 616.9 912.5" stroke="#000" stroke-width="1.1" fill="none"/>
<path d="M361.3 897.9 362.4 896.6 363.6 897.2 364.7 897.6 365.8 898.4 366.9 897.6 368.1 896.7 369.2 897.8 370.3 896.9 371.4 898.3 372.6 897.4 373.7 898.6 374.8 897.5 376 897 377.1 896.8 378.2 897.4 379.3 897.8 380.5 898.2 381.6 897.7 382.7 897.1 383.9 897.8 385 896.7 386.1 897.8 387.2 897 388.4 898.2 389.5 897.9 390.6 897.6 391.7 896.7 392.9 897.5 394 897.4 395.1 896.8 396.3 896.7 397.4 897.6 398.5 896.6 399.6 897.1 400.8 897.3 401.9 896 403 897.1 404.1 896.6 405.3 895.6 406.4 895.2 407.5 894.8 408.7 895.3 409.8 893.5 410.9 894.4 412 893.6 413.2 892.7 414.3 892.2 415.4 891.6 416.5 891 417.7 890.7 418.8 889.2 419.9 889.2 421.1 888.3 422.2 886.9 423.3 886.3 424.4 884.9 425.6 884.2 426.7 883.4 427.8 882.9 429 881.1 430.1 880.1 431.2 879.2 432.3 878.2 433.5 876.9 434.6 877.3 435.7 875.5 436.8 874.7 438 874 439.1 873.9 440.2 874.3 441.4 873.8 442.5 872.6 443.6 872 444.7 871.6 445.9 871 447 871.6 448.1 871.2 449.2 872.1 450.4 871.2 451.5 871.1 452.6 871 453.8 871.3 454.9 872.6 456 872.9 457.1 872.8 458.3 873.2 459.4 874.4 460.5 874.8 461.6 875.7 462.8 876.2 463.9 876.6 465 876.9 466.2 878.3 467.3 878.9 468.4 879.6 469.5 880.5 470.7 881 471.8 880.9 472.9 881.6 474.1 880.8 475.2 882.1 476.3 881.9 477.4 882.2 478.6 882 479.7 880.9 480.8 880.8 481.9 880.7 483.1 879.3 484.2 878.8 485.3 877.7 486.5 877.2 487.6 876.2 488.7 874.8 489.8 873.6 491 872.4 492.1 872.8 493.2 871.5 494.3 870.8 495.5 870.4 496.6 869.9 497.7 870.4 498.9 870.2 500 869.1 501.1 870 502.2 869.9 503.4 869.5 504.5 869 505.6 868.4 506.7 865.9 507.9 863.2 509 858.8 510.1 852 511.3 846.1 512.4 836.7 513.5 826.3 514.6 815.5 515.8 804.3 516.9 791.3 518 780.2 519.1 770.9 520.3 762.3 521.4 757.4 522.5 755.5 523.7 756.2 524.8 759.2 525.9 764.7 527 771.9 528.2 779.4 529.3 787.8 530.4 795.8 531.6 803 532.7 809.5 533.8 813.8 534.9 815.6 536.1 818.5 537.2 818.6 538.3 818.8 539.4 819.6 540.6 819.6 541.7 819.9 542.8 820.6 544 822.7 545.1 823.9 546.2 827.8 547.3 830.9 548.5 835.1 549.6 838.9 550.7 844.2 551.8 847.7 553 849.5 554.1 849.7 555.2 848.8 556.4 844.8 557.5 839.2 558.6 831.5 559.7 820.7 560.9 807.6 562 793.4 563.1 778 564.2 763.4 565.4 749.4 566.5 737.7 567.6 727.7 568.8 722 569.9 718.3 571 718.7 572.1 722 573.3 728.7 574.4 736.5 575.5 745.2 576.7 755.1 577.8 765.4 578.9 774 580 781.4 581.2 787.6 582.3 792.6 583.4 794.9 584.5 797.3 585.7 797.5 586.8 798.2 587.9 798.9 589.1 799.5 590.2 800.6 591.3 802.3 592.4 805.4 593.6 809.2 594.7 814.1 595.8 820.1 596.9 826.2 598.1 833.5 599.2 840.5 600.3 848.2 601.5 855.9 602.6 863.4 603.7 870.7 604.8 876.8 606 883.3 607.1 888.8 608.2 894.1 609.4 898.2 610.5 901.2 611.6 904.6 612.7 907.2 613.9 909 615 911.1 616.1 912 617.2 912.3 618.4 913.8 619.5 914.7 620.6 914.2 621.8 915.4 622.9 913.7 624 916.5 625.1 914.7 626.3 915.3 627.4 915.5 628.5 914.9 629.6 915.9 630.8 915.2 631.9 915 633 914.5 634.2 916.2 635.3 916.5 636.4 915.7 637.5 915.9 638.7 916.7 639.8 916 640.9 916.5 642 916.4 643.2 916.3 644.3 916.1 645.4 916.5 646.6 916 647.7 915.9 648.8 915.5 649.9 914.7 651.1 915.4 652.2 915.7 653.3 916.5 654.5 915.7 655.6 914.8 656.7 916.3 657.8 916.6 659 916.1 660.1 916.1 661.2 916.1 662.3 915.9 663.5 916.7 664.6 915.4 665.7 915.5 666.9 915.1 668 915.6 669.1 915.5 670.2 915.6 671.4 916 672.5 916.5 673.6 915.2 674.7 916 675.9 915.5 677 915.5" stroke="#000" stroke-width="1.1" fill="none"/>
<rect x="361.3" y="659.5" width="315.7" height="281.5" fill="none" stroke="#222" stroke-width="1.3"/>
<path d="M361.3 941v5.8" stroke="#222" stroke-width="1.3"/>
<path d="M383.9 941v3" stroke="#222" stroke-width="1.3"/>
<path d="M406.4 941v5.8" stroke="#222" stroke-width="1.3"/>
<path d="M429 941v3" stroke="#222" stroke-width="1.3"/>
<path d="M451.5 941v5.8" stroke="#222" stroke-width="1.3"/>
<path d="M474.1 941v3" stroke="#222" stroke-width="1.3"/>
<path d="M496.6 941v5.8" stroke="#222" stroke-width="1.3"/>
<path d="M519.1 941v3" stroke="#222" stroke-width="1.3"/>
<path d="M541.7 941v5.8" stroke="#222" stroke-width="1.3"/>
<path d="M564.2 941v3" stroke="#222" stroke-width="1.3"/>
<path d="M586.8 941v5.8" stroke="#222" stroke-width="1.3"/>
<path d="M609.4 941v3" stroke="#222" stroke-width="1.3"/>
<path d="M631.9 941v5.8" stroke="#222" stroke-width="1.3"/>
<path d="M654.5 941v3" stroke="#222" stroke-width="1.3"/>
<path d="M677 941v5.8" stroke="#222" stroke-width="1.3"/>
<text x="360.5" y="960.2" font-size="12" text-anchor="middle">42</text>
<text x="405.6" y="960.2" font-size="12" text-anchor="middle">40</text>
<text x="450.7" y="960.2" font-size="12" text-anchor="middle">38</text>
<text x="495.8" y="960.2" font-size="12" text-anchor="middle">36</text>
<text x="540.9" y="960.2" font-size="12" text-anchor="middle">34</text>
<text x="586" y="960.2" font-size="12" text-anchor="middle">32</text>
<text x="631.1" y="960.2" font-size="12" text-anchor="middle">30</text>
<text x="676.2" y="960.2" font-size="12" text-anchor="middle">28</text>
<text x="521.5" y="978.4" font-size="14.05" text-anchor="middle">Binding Energy (eV)</text>
<rect x="343" y="949" width="13.8" height="14" fill="#fff"/>
<text x="371" y="683.3" font-size="19.5" font-weight="bold" textLength="140.5" lengthAdjust="spacingAndGlyphs">(f) 100 mJ, 30 s</text>
<path d="M499.1 729V941" stroke="#777" stroke-width="0.9" stroke-dasharray="1 1.6"/>
<path d="M569.4 691.8V941" stroke="#777" stroke-width="0.9" stroke-dasharray="1 1.6"/>
<path d="M590.4 720.3V941" stroke="#777" stroke-width="0.9" stroke-dasharray="1 1.6"/>
<text x="563.6" y="681.4" font-size="14.8">W</text><text x="577.8" y="674.2" font-size="8.4">4+</text><text x="592.8" y="681.4" font-size="14.8">(2H)</text>
<text x="582.5" y="711.6" font-size="14.8">W</text><text x="596.7" y="704.4" font-size="8.4">4+</text><text x="611.7" y="711.6" font-size="14.8">(1T)</text>
<text x="492.9" y="717.8" font-size="14.8">W</text><text x="507.2" y="709.5" font-size="7.6">6+</text>
<text x="397.5" y="834.5" font-size="14.6">W 5p</text>
<text x="432.1" y="840.8" font-size="9">3/2</text>
<path d="M415.9 844.7L434.7 883.8" stroke="#111" stroke-width="1.1"/>
<path d="M437.5 889.7L431.1 883.3L436.5 880.7Z" fill="#111"/>
</svg>
</body></html>
